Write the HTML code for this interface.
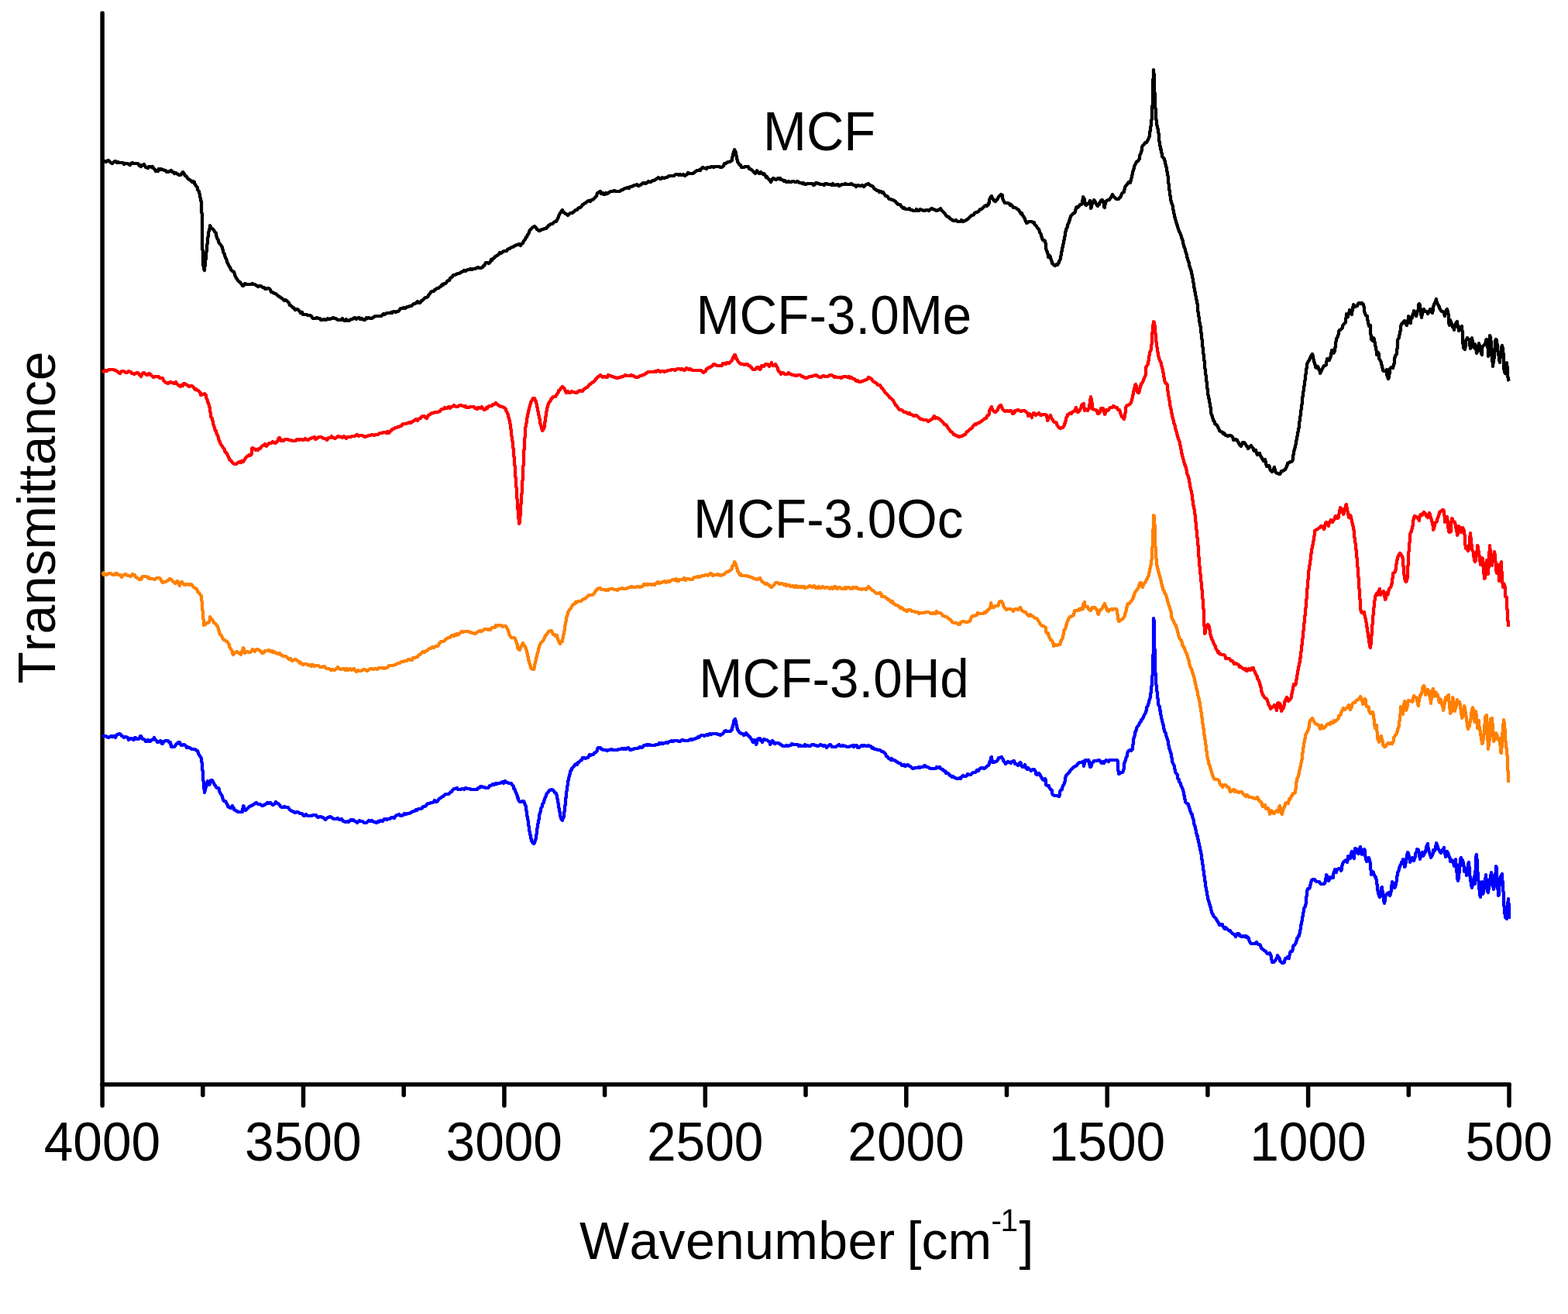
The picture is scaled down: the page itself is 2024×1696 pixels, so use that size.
<!DOCTYPE html>
<html lang="en">
<head>
<meta charset="utf-8">
<title>FTIR spectra</title>
<style>
html, body { margin: 0; padding: 0; background: #ffffff; }
body { width: 2024px; height: 1696px; overflow: hidden; }
svg { display: block; }
text { font-family: "Liberation Sans", Arial, Helvetica, sans-serif; font-size: 68px; fill: #000000; font-kerning: none; }
</style>
</head>
<body>
<svg width="2024" height="1696" viewBox="0 0 2024 1696">
<rect x="0" y="0" width="2024" height="1696" fill="#ffffff"/>
<g id="axes" stroke="#000000" stroke-width="5.5" stroke-linecap="round" fill="none">
<line x1="132.1" y1="17.0" x2="132.1" y2="1399.8"/>
<line x1="132.1" y1="1399.8" x2="1948.0" y2="1399.8"/>
<line x1="132.1" y1="1399.8" x2="132.1" y2="1427.0"/>
<line x1="261.8" y1="1399.8" x2="261.8" y2="1413.5"/>
<line x1="391.5" y1="1399.8" x2="391.5" y2="1427.0"/>
<line x1="521.2" y1="1399.8" x2="521.2" y2="1413.5"/>
<line x1="650.9" y1="1399.8" x2="650.9" y2="1427.0"/>
<line x1="780.6" y1="1399.8" x2="780.6" y2="1413.5"/>
<line x1="910.3" y1="1399.8" x2="910.3" y2="1427.0"/>
<line x1="1040.0" y1="1399.8" x2="1040.0" y2="1413.5"/>
<line x1="1169.8" y1="1399.8" x2="1169.8" y2="1427.0"/>
<line x1="1299.5" y1="1399.8" x2="1299.5" y2="1413.5"/>
<line x1="1429.2" y1="1399.8" x2="1429.2" y2="1427.0"/>
<line x1="1558.9" y1="1399.8" x2="1558.9" y2="1413.5"/>
<line x1="1688.6" y1="1399.8" x2="1688.6" y2="1427.0"/>
<line x1="1818.3" y1="1399.8" x2="1818.3" y2="1413.5"/>
<line x1="1948.0" y1="1399.8" x2="1948.0" y2="1427.0"/>
</g>
<g id="curves">
<polyline fill="none" stroke="#0000ff" stroke-width="4.2" stroke-linejoin="round" stroke-linecap="butt" points="132,951 134,950 136,950 138,951 140,952 142,951 144,950 145,951 147,950 149,952 150,950 151,948 152,948 154,947 156,948 157,950 158,950 160,952 161,951 163,951 164,952 165,952 166,955 167,954 169,953 170,953 172,955 173,955 174,952 175,952 177,954 178,954 180,953 181,950 182,950 183,952 184,954 186,954 187,955 188,957 190,957 191,955 193,957 194,957 195,955 197,955 198,954 199,952 200,954 201,955 202,956 203,958 204,958 206,957 207,956 208,957 209,960 210,960 211,957 212,957 214,956 215,956 217,956 218,958 220,958 220,961 221,961 221,964 223,964 225,964 226,963 227,961 228,960 229,960 230,958 232,958 233,961 234,962 235,962 237,961 238,961 240,963 241,965 242,964 244,965 245,965 246,966 248,967 249,967 251,967 253,968 254,969 255,969 256,972 256,973 257,974 258,976 259,977 260,979 260,981 260,983 261,985 261,986 261,988 261,990 261,991 261,994 262,995 262,997 262,999 262,1000 262,1002 262,1004 262,1006 262,1007 263,1009 263,1011 263,1012 263,1014 263,1016 263,1017 264,1020 264,1021 264,1023 264,1022 265,1020 265,1018 266,1016 266,1014 267,1013 267,1011 268,1009 268,1008 269,1010 270,1012 270,1013 271,1012 271,1010 272,1009 272,1007 274,1007 275,1009 276,1011 277,1013 278,1014 279,1016 280,1017 282,1017 283,1019 283,1020 283,1021 284,1023 285,1025 286,1026 287,1028 287,1029 288,1032 289,1034 291,1034 292,1036 293,1038 294,1039 294,1041 296,1042 298,1043 299,1041 300,1040 301,1043 302,1043 302,1045 304,1046 306,1047 307,1048 309,1048 311,1048 313,1048 313,1046 313,1044 314,1043 314,1042 314,1040 315,1041 315,1044 316,1045 317,1046 318,1045 319,1044 320,1043 321,1042 322,1041 324,1040 325,1040 326,1039 328,1038 329,1037 331,1036 333,1038 334,1038 336,1038 338,1040 339,1040 341,1039 343,1038 345,1036 347,1037 349,1036 351,1038 352,1039 354,1038 355,1037 356,1035 358,1037 359,1037 361,1039 362,1041 364,1042 366,1042 367,1041 369,1042 370,1042 372,1042 373,1044 374,1045 375,1046 377,1047 378,1047 379,1048 381,1049 383,1048 384,1048 386,1049 387,1050 388,1050 390,1050 391,1052 393,1053 395,1051 397,1053 399,1053 400,1053 402,1053 404,1052 405,1052 407,1052 408,1052 409,1054 411,1055 412,1054 414,1054 416,1055 417,1055 419,1057 420,1058 422,1056 423,1055 424,1055 426,1054 428,1055 429,1056 431,1057 433,1057 434,1057 436,1056 438,1058 439,1058 441,1057 443,1060 444,1060 446,1061 447,1061 449,1060 450,1061 452,1059 453,1058 455,1059 456,1058 458,1060 459,1060 461,1062 462,1061 463,1060 464,1059 465,1060 467,1060 468,1060 470,1062 471,1062 473,1062 474,1061 475,1060 476,1059 478,1060 480,1059 481,1060 483,1061 484,1061 486,1062 488,1060 489,1061 491,1059 493,1060 494,1060 496,1057 498,1057 499,1058 501,1057 503,1057 504,1056 506,1055 507,1055 509,1056 510,1054 512,1052 514,1052 515,1051 517,1053 518,1053 520,1052 521,1052 522,1050 524,1051 526,1050 528,1050 530,1049 532,1048 533,1047 535,1047 537,1045 538,1046 540,1044 542,1044 543,1044 545,1043 546,1041 548,1041 550,1040 551,1038 553,1037 555,1037 556,1036 558,1036 560,1035 561,1033 563,1035 565,1034 566,1032 567,1031 568,1030 569,1030 571,1028 572,1028 574,1026 575,1025 576,1025 578,1025 579,1025 581,1023 582,1022 583,1022 584,1020 585,1019 586,1018 588,1018 590,1017 591,1019 593,1019 595,1019 596,1018 598,1018 599,1019 601,1017 603,1018 604,1018 606,1018 608,1019 609,1019 611,1019 613,1019 615,1019 616,1019 617,1017 619,1017 620,1015 622,1015 623,1016 625,1016 627,1017 628,1017 630,1017 631,1016 632,1014 634,1014 635,1013 636,1012 638,1013 640,1011 641,1012 643,1011 645,1011 647,1010 649,1009 650,1011 652,1008 654,1010 655,1010 657,1011 658,1011 660,1011 661,1013 662,1014 663,1015 663,1018 664,1018 665,1020 665,1021 666,1023 667,1025 667,1026 668,1027 668,1030 669,1030 669,1032 670,1034 671,1035 673,1035 674,1034 676,1034 677,1036 677,1037 678,1039 679,1041 679,1043 679,1044 679,1046 680,1047 680,1049 680,1051 680,1053 681,1054 681,1056 681,1057 682,1060 682,1062 682,1064 682,1065 683,1067 683,1069 683,1070 683,1072 684,1074 684,1075 684,1077 685,1078 685,1080 685,1082 686,1083 686,1085 687,1087 688,1088 689,1089 690,1088 690,1087 691,1085 691,1084 692,1082 692,1081 692,1079 692,1078 693,1076 693,1074 693,1072 693,1070 694,1068 694,1067 694,1065 694,1064 695,1062 695,1061 695,1059 696,1057 696,1055 696,1053 696,1052 697,1050 697,1049 698,1047 698,1045 698,1044 699,1042 700,1041 700,1038 701,1037 702,1036 702,1034 703,1032 703,1031 704,1029 705,1027 705,1026 706,1024 707,1023 708,1022 709,1020 710,1020 712,1019 714,1020 715,1021 716,1023 718,1024 718,1025 719,1027 719,1029 719,1030 720,1032 720,1034 720,1035 721,1038 721,1039 721,1041 721,1042 722,1044 722,1046 722,1047 723,1049 723,1051 723,1053 724,1055 724,1056 725,1058 726,1059 726,1058 727,1056 728,1054 728,1053 728,1052 728,1050 728,1048 729,1047 729,1045 729,1043 729,1042 729,1040 730,1039 730,1037 730,1035 730,1034 730,1032 730,1030 731,1029 731,1027 731,1026 731,1024 731,1022 732,1020 732,1019 732,1017 732,1015 733,1013 733,1012 733,1010 733,1008 734,1007 734,1004 735,1002 735,1000 736,999 736,996 737,994 738,994 738,992 740,990 741,989 742,987 744,986 745,987 746,984 747,984 749,982 750,981 751,981 752,978 754,978 756,979 757,978 759,978 760,976 761,974 762,975 764,974 766,974 767,972 769,971 770,970 771,969 771,967 772,965 773,965 775,965 776,967 777,967 779,968 780,968 782,968 784,969 785,968 787,968 789,967 791,968 793,968 794,968 796,968 797,968 799,967 801,967 803,966 805,967 806,966 808,967 809,966 811,965 812,966 813,968 815,968 816,967 818,967 819,966 821,966 822,966 823,966 825,965 826,964 828,965 830,964 831,962 833,962 835,961 836,962 838,961 840,962 842,962 844,962 845,962 847,961 848,961 850,961 851,959 853,960 854,959 856,960 857,959 859,959 860,958 862,959 863,958 864,957 866,957 867,956 869,957 870,956 872,956 873,956 875,956 876,957 878,957 879,956 880,955 882,955 883,956 885,956 887,956 888,956 890,955 892,954 893,955 895,954 896,954 898,953 899,953 901,951 902,952 904,950 905,949 906,949 908,949 909,950 911,949 913,948 914,949 916,947 918,948 919,947 921,947 923,947 925,947 927,948 928,948 930,949 931,948 933,947 934,946 935,944 937,943 938,944 940,944 941,944 943,944 944,942 945,942 945,939 946,938 946,936 947,934 947,933 947,931 948,929 949,928 949,929 950,931 950,933 950,934 951,936 951,937 951,938 952,941 952,942 953,943 955,946 956,946 957,947 959,947 960,949 962,948 963,946 964,947 965,949 966,949 967,951 968,951 969,953 970,954 971,956 972,958 973,957 974,955 975,956 975,958 976,960 976,961 977,959 977,957 978,955 978,954 980,953 981,953 982,956 983,956 984,958 985,955 986,954 988,955 990,955 992,957 993,957 994,959 994,961 995,960 996,958 997,956 998,957 999,958 1000,960 1002,959 1003,959 1005,959 1006,960 1008,961 1009,962 1011,963 1012,963 1014,963 1015,962 1017,963 1018,963 1019,962 1021,962 1022,960 1024,961 1025,961 1027,961 1028,961 1030,961 1031,963 1033,962 1034,963 1036,963 1037,963 1039,961 1040,963 1042,962 1044,963 1045,963 1046,963 1048,961 1050,961 1052,962 1053,962 1055,963 1056,963 1058,962 1059,961 1061,962 1063,963 1064,962 1066,963 1067,965 1069,963 1071,961 1072,961 1074,964 1076,964 1077,964 1079,964 1080,963 1082,962 1083,961 1085,963 1087,963 1088,962 1090,963 1092,963 1093,964 1094,964 1096,964 1097,963 1099,963 1101,962 1102,964 1104,962 1106,962 1107,965 1109,965 1110,964 1111,963 1113,962 1114,963 1116,962 1118,963 1120,963 1121,962 1122,963 1124,963 1125,965 1126,966 1127,965 1129,967 1130,967 1131,967 1133,968 1134,968 1136,968 1137,969 1138,970 1139,970 1141,971 1142,972 1143,973 1144,976 1146,977 1147,979 1148,979 1150,981 1151,979 1152,981 1154,981 1156,982 1157,983 1159,984 1160,985 1162,985 1163,986 1164,988 1165,988 1167,987 1168,989 1169,989 1171,987 1172,987 1174,989 1175,989 1177,991 1178,992 1179,992 1181,991 1182,991 1184,991 1186,990 1187,991 1189,990 1190,990 1192,990 1193,988 1194,988 1196,990 1198,990 1199,991 1201,992 1203,992 1204,992 1206,992 1208,992 1209,990 1211,991 1213,990 1214,992 1216,993 1217,993 1218,995 1220,995 1221,998 1222,997 1223,998 1225,999 1226,1001 1227,1001 1229,1003 1230,1002 1231,1003 1233,1004 1235,1005 1237,1005 1239,1004 1240,1005 1241,1003 1242,1002 1243,1001 1245,1002 1247,1002 1248,1001 1249,999 1251,1000 1253,1000 1254,999 1255,998 1256,997 1257,997 1259,997 1260,996 1261,994 1263,995 1264,993 1265,992 1267,991 1268,991 1270,992 1272,991 1273,990 1275,988 1276,988 1277,986 1277,984 1278,983 1278,982 1279,981 1279,978 1280,977 1280,978 1280,980 1281,982 1281,983 1281,984 1283,984 1285,983 1286,983 1288,981 1289,978 1291,978 1293,977 1293,978 1294,979 1295,980 1295,982 1296,983 1297,984 1298,986 1300,984 1301,983 1303,984 1305,985 1306,983 1307,983 1308,982 1309,982 1310,985 1310,986 1312,986 1314,988 1316,985 1317,984 1318,985 1318,988 1319,989 1320,990 1322,989 1323,987 1324,990 1324,991 1326,993 1326,992 1327,991 1328,992 1329,993 1330,994 1331,995 1333,993 1335,993 1336,995 1337,996 1337,999 1339,1000 1340,999 1341,998 1342,999 1343,1001 1344,1003 1345,1004 1345,1005 1347,1007 1348,1006 1349,1005 1350,1007 1350,1008 1350,1010 1350,1011 1350,1013 1352,1014 1354,1014 1354,1016 1355,1017 1356,1019 1358,1020 1358,1022 1358,1024 1359,1026 1360,1026 1361,1027 1363,1027 1365,1027 1367,1028 1368,1026 1368,1024 1368,1022 1369,1020 1371,1019 1371,1017 1372,1015 1372,1014 1373,1013 1374,1011 1374,1010 1375,1008 1375,1006 1375,1004 1376,1002 1376,1001 1377,1000 1378,999 1380,997 1381,996 1381,995 1383,993 1384,992 1386,990 1388,989 1390,988 1391,986 1392,985 1394,984 1396,984 1398,983 1398,985 1399,987 1399,989 1399,987 1400,986 1400,985 1400,982 1401,981 1402,981 1403,982 1405,981 1406,983 1406,985 1406,986 1407,988 1407,990 1408,990 1409,988 1409,987 1409,985 1411,984 1412,982 1414,982 1416,982 1418,981 1419,981 1420,982 1421,984 1422,985 1424,983 1425,985 1426,983 1428,981 1428,982 1429,982 1431,983 1432,981 1434,981 1436,981 1437,981 1439,981 1441,981 1442,981 1443,983 1443,985 1443,986 1443,988 1443,989 1443,991 1443,992 1443,994 1444,996 1444,998 1444,999 1446,998 1447,997 1449,997 1450,995 1450,994 1451,992 1451,990 1451,989 1451,987 1451,985 1452,984 1452,983 1453,981 1453,980 1454,977 1455,976 1455,974 1455,973 1456,970 1457,969 1459,968 1460,969 1462,967 1462,965 1462,964 1462,962 1463,960 1463,959 1463,957 1463,955 1463,954 1464,952 1464,951 1465,949 1465,948 1465,945 1466,945 1466,943 1467,942 1467,940 1468,938 1469,937 1470,936 1471,933 1472,932 1473,931 1473,929 1474,929 1475,927 1476,926 1476,925 1477,923 1478,921 1479,920 1479,918 1480,917 1480,915 1480,913 1481,912 1482,910 1482,909 1483,907 1483,905 1484,903 1484,902 1485,900 1485,899 1485,897 1485,895 1486,894 1486,892 1486,890 1486,888 1486,886 1487,885 1487,883 1487,882 1487,880 1487,878 1487,877 1487,875 1487,873 1488,871 1488,870 1488,868 1488,867 1488,865 1488,863 1488,862 1488,860 1488,858 1488,856 1488,855 1488,853 1488,851 1488,849 1488,848 1488,846 1489,844 1489,842 1489,841 1489,839 1489,837 1489,835 1489,834 1489,832 1489,830 1489,828 1489,827 1489,825 1489,823 1489,821 1489,820 1489,818 1489,816 1489,814 1489,813 1489,811 1489,810 1489,808 1489,806 1489,805 1489,803 1489,801 1489,799 1489,798 1489,800 1490,801 1490,803 1490,804 1490,806 1490,808 1490,810 1490,811 1490,813 1490,814 1490,816 1490,818 1490,820 1490,821 1490,823 1490,825 1490,827 1490,829 1490,830 1490,832 1490,834 1490,835 1490,837 1491,839 1491,841 1491,842 1491,844 1491,846 1491,848 1491,849 1491,851 1491,853 1491,854 1491,856 1491,858 1491,860 1491,861 1491,863 1491,865 1491,867 1491,868 1492,870 1492,871 1492,873 1492,875 1492,876 1492,878 1492,880 1492,881 1492,883 1493,885 1493,887 1493,888 1493,890 1493,892 1494,893 1494,895 1494,897 1494,899 1494,901 1495,902 1495,904 1495,906 1495,907 1495,909 1496,911 1497,912 1497,915 1497,917 1498,917 1498,920 1498,921 1498,922 1499,924 1499,925 1499,927 1500,929 1500,931 1501,933 1501,935 1502,936 1502,937 1502,938 1502,940 1503,942 1503,944 1504,945 1505,947 1505,949 1506,951 1506,952 1507,954 1507,955 1508,957 1508,959 1508,961 1509,963 1509,965 1509,966 1510,967 1510,968 1511,971 1511,972 1512,973 1512,975 1512,977 1513,979 1513,981 1513,983 1514,985 1515,987 1516,989 1516,991 1516,992 1517,994 1517,996 1518,998 1519,999 1520,1000 1520,1002 1520,1004 1521,1006 1522,1006 1522,1009 1523,1010 1524,1011 1524,1013 1525,1015 1526,1017 1527,1019 1527,1020 1528,1023 1528,1024 1528,1026 1529,1027 1529,1029 1529,1031 1530,1032 1530,1033 1530,1035 1532,1037 1533,1037 1534,1038 1534,1040 1535,1041 1535,1043 1536,1044 1536,1046 1537,1048 1538,1051 1539,1051 1539,1053 1539,1054 1540,1056 1540,1057 1541,1059 1541,1061 1541,1063 1542,1065 1542,1066 1543,1067 1543,1069 1543,1070 1544,1072 1544,1073 1544,1075 1545,1077 1545,1079 1546,1079 1546,1081 1546,1083 1547,1084 1547,1086 1547,1087 1548,1089 1548,1090 1548,1092 1549,1093 1549,1095 1549,1097 1550,1098 1550,1100 1550,1101 1551,1103 1551,1104 1551,1106 1551,1109 1552,1110 1552,1112 1552,1114 1552,1115 1553,1117 1553,1119 1553,1121 1553,1123 1554,1124 1554,1126 1554,1128 1554,1130 1555,1131 1555,1133 1555,1136 1555,1137 1556,1138 1556,1140 1556,1142 1556,1144 1557,1146 1557,1148 1557,1149 1558,1151 1558,1153 1558,1155 1559,1157 1559,1158 1559,1160 1560,1162 1560,1163 1561,1165 1561,1167 1562,1168 1562,1170 1563,1171 1563,1173 1563,1174 1564,1176 1564,1178 1565,1179 1566,1181 1566,1182 1567,1183 1569,1185 1570,1186 1570,1187 1571,1188 1572,1190 1573,1191 1574,1194 1575,1194 1576,1193 1578,1193 1578,1195 1579,1196 1580,1198 1581,1199 1582,1197 1583,1198 1584,1199 1585,1200 1586,1201 1588,1201 1588,1202 1589,1203 1590,1204 1591,1205 1593,1206 1594,1207 1595,1209 1596,1207 1597,1205 1599,1205 1600,1206 1600,1208 1601,1208 1603,1209 1604,1208 1606,1209 1608,1208 1609,1210 1610,1209 1612,1211 1612,1213 1613,1215 1614,1217 1615,1218 1616,1218 1618,1218 1620,1218 1621,1217 1622,1216 1623,1218 1624,1219 1626,1219 1627,1220 1627,1221 1628,1223 1628,1224 1630,1225 1631,1226 1632,1227 1634,1228 1635,1230 1636,1231 1638,1231 1639,1230 1640,1232 1640,1233 1641,1234 1641,1237 1641,1238 1642,1240 1642,1242 1644,1242 1645,1241 1646,1240 1647,1238 1648,1237 1649,1234 1649,1233 1650,1235 1651,1236 1652,1238 1652,1240 1653,1241 1654,1242 1655,1243 1656,1243 1658,1242 1658,1240 1659,1238 1659,1237 1661,1237 1662,1235 1663,1235 1664,1237 1664,1235 1664,1234 1665,1232 1665,1230 1666,1228 1668,1228 1668,1227 1669,1225 1669,1224 1669,1222 1670,1220 1671,1220 1672,1218 1673,1217 1673,1215 1674,1214 1674,1211 1675,1211 1676,1208 1677,1208 1677,1206 1678,1204 1678,1203 1678,1201 1679,1199 1679,1197 1679,1196 1679,1194 1680,1193 1680,1192 1680,1190 1681,1188 1681,1186 1681,1184 1682,1182 1682,1181 1682,1179 1683,1176 1683,1175 1683,1173 1684,1171 1685,1170 1685,1168 1686,1166 1686,1165 1686,1163 1686,1161 1686,1160 1686,1158 1687,1156 1687,1155 1687,1153 1687,1151 1687,1150 1688,1148 1688,1147 1690,1147 1691,1145 1691,1143 1692,1141 1692,1139 1693,1137 1693,1136 1695,1135 1697,1135 1698,1137 1700,1138 1701,1138 1703,1138 1704,1140 1705,1141 1707,1141 1709,1141 1710,1140 1711,1137 1711,1136 1711,1134 1712,1134 1712,1131 1712,1129 1713,1130 1713,1132 1713,1133 1714,1135 1715,1136 1715,1137 1716,1135 1717,1134 1717,1132 1719,1133 1721,1133 1721,1132 1721,1130 1721,1128 1722,1126 1722,1125 1723,1124 1723,1122 1724,1123 1724,1124 1725,1126 1725,1125 1726,1122 1727,1122 1728,1121 1730,1121 1731,1123 1731,1124 1732,1122 1732,1121 1732,1120 1732,1118 1733,1116 1733,1115 1734,1113 1735,1112 1736,1111 1738,1110 1738,1112 1739,1113 1739,1111 1740,1110 1740,1108 1740,1106 1740,1105 1742,1105 1743,1106 1743,1108 1744,1106 1744,1104 1744,1101 1745,1099 1746,1101 1746,1103 1747,1104 1747,1105 1747,1106 1748,1108 1748,1106 1748,1105 1748,1103 1748,1102 1749,1100 1749,1098 1749,1097 1749,1095 1751,1096 1751,1098 1752,1100 1753,1102 1754,1102 1754,1101 1755,1099 1755,1098 1755,1096 1755,1095 1756,1093 1756,1095 1757,1096 1757,1098 1758,1099 1758,1100 1758,1103 1759,1100 1760,1099 1761,1097 1761,1096 1762,1098 1762,1099 1762,1101 1762,1103 1762,1105 1763,1106 1763,1107 1763,1109 1764,1111 1764,1112 1765,1111 1766,1110 1766,1108 1767,1107 1767,1108 1768,1110 1768,1111 1768,1112 1769,1114 1769,1116 1769,1117 1769,1119 1769,1121 1769,1122 1770,1124 1770,1125 1770,1127 1770,1129 1771,1126 1772,1126 1772,1125 1773,1126 1773,1128 1774,1129 1775,1132 1776,1132 1776,1134 1777,1136 1777,1138 1777,1139 1777,1141 1778,1142 1778,1144 1778,1146 1778,1147 1778,1149 1779,1150 1779,1152 1779,1153 1780,1155 1780,1156 1781,1158 1781,1156 1782,1155 1782,1153 1782,1151 1783,1150 1783,1147 1783,1146 1784,1145 1784,1147 1784,1149 1785,1151 1785,1152 1785,1154 1785,1155 1785,1157 1786,1158 1786,1160 1786,1162 1786,1163 1787,1165 1787,1166 1787,1164 1788,1163 1788,1161 1788,1160 1788,1158 1789,1156 1789,1155 1791,1153 1793,1152 1793,1154 1794,1156 1795,1154 1795,1153 1795,1152 1796,1150 1796,1148 1796,1147 1796,1145 1796,1143 1797,1142 1797,1140 1797,1138 1798,1140 1798,1141 1798,1143 1799,1145 1800,1146 1801,1145 1801,1143 1802,1142 1802,1140 1802,1139 1803,1137 1803,1135 1803,1133 1803,1131 1804,1130 1804,1128 1804,1126 1805,1125 1806,1122 1806,1120 1807,1119 1807,1118 1808,1116 1809,1115 1809,1113 1810,1112 1811,1110 1811,1109 1812,1112 1812,1114 1813,1116 1813,1117 1813,1119 1814,1118 1814,1116 1814,1115 1815,1113 1815,1112 1815,1110 1815,1109 1816,1106 1816,1105 1816,1103 1817,1102 1817,1100 1818,1101 1818,1103 1819,1105 1819,1107 1819,1108 1820,1110 1820,1111 1820,1113 1821,1111 1821,1110 1822,1108 1823,1107 1824,1110 1825,1111 1826,1108 1826,1107 1827,1106 1827,1103 1827,1102 1828,1100 1829,1099 1829,1096 1831,1097 1831,1099 1832,1101 1832,1102 1832,1104 1832,1105 1833,1107 1833,1109 1833,1107 1834,1106 1834,1104 1834,1102 1835,1102 1836,1100 1836,1101 1837,1103 1837,1105 1838,1103 1839,1101 1840,1100 1840,1098 1841,1096 1841,1095 1841,1093 1842,1092 1842,1091 1843,1089 1843,1091 1843,1093 1844,1095 1844,1096 1844,1098 1845,1099 1845,1100 1846,1103 1846,1104 1847,1105 1847,1107 1848,1105 1849,1104 1849,1103 1850,1101 1850,1099 1850,1098 1850,1097 1852,1098 1853,1096 1853,1094 1853,1092 1854,1091 1854,1089 1854,1088 1855,1090 1855,1091 1856,1093 1856,1095 1857,1096 1858,1098 1859,1100 1860,1101 1861,1099 1862,1097 1863,1096 1864,1094 1864,1096 1864,1098 1865,1099 1865,1101 1865,1102 1866,1104 1866,1106 1867,1104 1867,1102 1867,1101 1868,1099 1869,1101 1870,1103 1870,1105 1871,1106 1871,1107 1872,1108 1872,1110 1872,1112 1873,1111 1874,1110 1875,1111 1875,1112 1876,1114 1877,1117 1877,1118 1878,1116 1878,1115 1878,1112 1879,1111 1879,1109 1879,1111 1879,1113 1879,1114 1880,1116 1880,1118 1880,1119 1880,1121 1880,1122 1880,1124 1880,1125 1881,1127 1881,1129 1881,1131 1881,1132 1881,1134 1882,1136 1882,1137 1882,1135 1883,1134 1883,1132 1883,1131 1883,1129 1883,1127 1884,1126 1884,1124 1884,1122 1884,1121 1884,1119 1884,1118 1884,1116 1885,1114 1885,1113 1885,1111 1885,1109 1886,1107 1886,1109 1886,1110 1886,1112 1886,1114 1887,1115 1887,1117 1887,1115 1887,1113 1888,1111 1888,1110 1888,1112 1889,1113 1889,1115 1889,1117 1890,1118 1890,1120 1890,1122 1890,1124 1890,1125 1891,1123 1892,1121 1892,1123 1892,1125 1893,1127 1893,1128 1893,1130 1894,1128 1894,1126 1894,1125 1894,1124 1894,1122 1895,1120 1895,1118 1895,1117 1895,1115 1896,1113 1896,1115 1896,1117 1896,1118 1897,1120 1897,1121 1897,1123 1897,1125 1897,1127 1897,1128 1897,1130 1898,1132 1898,1133 1898,1135 1898,1137 1899,1139 1899,1140 1899,1142 1899,1143 1900,1145 1900,1146 1900,1144 1901,1143 1901,1142 1901,1140 1902,1138 1902,1136 1902,1135 1903,1133 1903,1131 1903,1133 1903,1134 1903,1135 1903,1137 1904,1139 1904,1141 1904,1139 1904,1137 1904,1135 1904,1134 1904,1132 1904,1130 1904,1128 1904,1127 1904,1125 1905,1123 1905,1122 1905,1120 1905,1118 1905,1116 1905,1115 1905,1113 1905,1111 1905,1109 1905,1108 1905,1106 1906,1103 1906,1105 1906,1107 1906,1108 1907,1110 1907,1112 1907,1113 1907,1115 1907,1117 1907,1118 1907,1120 1907,1122 1907,1123 1907,1125 1908,1127 1908,1128 1908,1130 1908,1132 1908,1133 1908,1135 1908,1136 1909,1138 1909,1139 1909,1141 1909,1143 1909,1144 1909,1146 1909,1147 1910,1149 1910,1150 1910,1152 1910,1154 1910,1155 1911,1157 1911,1158 1911,1157 1911,1155 1911,1153 1912,1151 1912,1149 1912,1148 1912,1146 1912,1145 1912,1143 1913,1141 1913,1139 1913,1138 1913,1140 1913,1142 1913,1143 1914,1145 1914,1147 1914,1149 1914,1150 1914,1152 1914,1154 1915,1152 1915,1151 1915,1148 1916,1147 1916,1145 1916,1144 1916,1142 1917,1141 1917,1139 1917,1138 1917,1136 1917,1134 1918,1132 1918,1130 1918,1129 1918,1131 1918,1132 1918,1134 1919,1135 1919,1137 1919,1139 1919,1141 1919,1143 1920,1144 1920,1145 1920,1148 1920,1149 1920,1150 1921,1152 1921,1150 1921,1149 1922,1147 1922,1145 1922,1144 1923,1142 1923,1140 1923,1139 1923,1137 1923,1135 1924,1134 1924,1131 1924,1130 1925,1128 1925,1126 1925,1128 1926,1130 1926,1132 1926,1133 1926,1135 1927,1137 1927,1138 1927,1140 1927,1142 1927,1144 1928,1146 1928,1148 1928,1146 1929,1144 1929,1142 1929,1141 1930,1139 1930,1137 1930,1135 1930,1133 1930,1132 1930,1130 1930,1128 1931,1126 1931,1125 1931,1123 1931,1121 1931,1120 1931,1118 1932,1120 1932,1121 1932,1123 1932,1125 1932,1127 1932,1129 1932,1131 1932,1132 1933,1134 1933,1135 1933,1137 1933,1138 1933,1140 1933,1142 1933,1143 1933,1145 1933,1147 1934,1149 1934,1150 1934,1153 1934,1154 1934,1156 1935,1155 1935,1153 1935,1151 1935,1149 1935,1147 1935,1146 1935,1144 1936,1142 1936,1141 1936,1139 1936,1137 1936,1136 1937,1134 1937,1132 1937,1131 1938,1130 1939,1128 1939,1130 1939,1132 1939,1133 1939,1135 1939,1137 1940,1138 1940,1141 1940,1142 1940,1144 1940,1146 1940,1147 1940,1149 1940,1150 1941,1152 1941,1154 1941,1156 1941,1157 1941,1159 1941,1160 1941,1162 1941,1164 1941,1165 1941,1167 1941,1169 1942,1170 1942,1172 1942,1173 1942,1175 1942,1177 1942,1179 1943,1180 1943,1182 1943,1184 1944,1185 1945,1186 1945,1184 1945,1183 1945,1181 1945,1180 1945,1178 1946,1177 1946,1175 1946,1173 1946,1171 1946,1170 1946,1168 1946,1166 1946,1165 1947,1163 1947,1162 1947,1160 1947,1161 1947,1163 1947,1164 1947,1166 1948,1167 1948,1169 1948,1171 1948,1172 1948,1174 1948,1176 1948,1177 1948,1179 1948,1181 1948,1182 1948,1184 1948,1186"/>
<polyline fill="none" stroke="#ff8000" stroke-width="4.2" stroke-linejoin="round" stroke-linecap="butt" points="132,738 133,739 133,741 134,742 136,741 137,742 139,741 141,740 143,740 144,741 146,742 148,742 149,740 151,740 152,742 154,742 155,742 157,745 158,743 160,742 162,741 163,742 165,743 167,743 168,744 170,743 171,741 172,742 174,742 175,745 176,745 177,746 179,747 180,748 182,748 183,747 183,745 184,744 186,744 188,744 189,744 191,746 192,745 193,747 195,747 196,747 198,747 199,748 200,748 202,746 203,746 205,746 206,746 207,747 208,749 209,751 210,752 212,751 214,751 215,750 217,749 218,748 219,747 221,748 222,749 223,750 225,752 226,753 227,752 229,750 230,752 230,753 231,754 232,756 232,755 233,752 234,751 235,751 236,753 238,755 239,755 241,754 243,754 244,755 246,754 248,755 249,757 250,758 252,759 253,760 254,760 255,763 255,764 257,765 258,767 259,768 260,769 260,772 260,773 260,775 261,777 261,779 261,780 261,782 261,784 261,786 261,787 262,789 262,791 262,793 262,794 262,796 262,798 263,800 263,803 263,804 263,806 263,807 265,806 267,804 268,804 270,803 270,802 271,800 271,798 271,796 272,798 273,799 274,800 275,801 276,804 277,804 279,806 280,808 281,808 281,809 282,812 282,813 283,815 283,816 284,819 285,819 286,821 287,823 288,825 289,826 290,826 291,827 293,828 294,829 295,831 296,832 296,835 297,836 298,838 299,839 300,841 300,843 301,845 302,844 304,842 306,841 308,843 309,843 311,845 311,844 312,841 313,840 313,839 314,838 314,836 315,838 315,840 315,842 316,843 317,842 318,841 320,841 321,842 323,842 324,841 325,840 326,838 327,839 329,841 330,839 332,838 333,838 334,839 336,840 337,841 338,843 339,843 341,842 342,840 343,840 345,840 347,839 349,841 351,840 352,842 354,841 356,843 357,843 359,844 361,843 362,845 364,846 366,847 367,847 369,847 370,848 372,850 373,851 375,850 376,852 377,853 379,852 381,851 383,852 384,853 386,854 387,856 388,855 390,857 391,858 393,857 394,857 396,857 397,858 399,859 401,858 402,860 404,858 406,860 407,859 409,859 410,859 411,859 413,861 414,861 416,861 417,860 419,860 420,862 422,863 423,863 425,863 426,864 427,865 429,864 431,865 432,865 434,863 435,863 436,861 438,863 440,864 441,864 443,863 445,863 446,865 448,863 449,865 451,864 452,863 454,865 455,864 457,863 458,865 460,867 462,865 463,866 465,866 466,866 468,865 469,864 471,864 472,865 474,866 475,865 477,864 478,863 480,863 482,864 484,863 486,863 487,864 489,862 490,862 492,862 494,862 496,863 498,862 499,862 501,861 502,859 504,859 505,859 506,859 508,859 509,858 511,858 513,856 514,856 516,856 518,854 519,854 521,854 522,853 524,853 525,853 527,851 528,851 530,852 532,852 533,849 535,849 536,849 537,848 539,848 540,846 541,845 542,845 544,843 545,842 546,841 548,842 550,840 551,840 552,839 553,838 555,837 556,837 558,835 560,836 561,835 563,834 565,834 566,833 567,830 568,830 569,828 571,828 572,828 574,827 575,825 576,825 577,824 579,823 581,823 582,821 584,820 586,821 587,819 589,820 590,818 592,819 593,818 595,816 596,815 598,816 599,815 601,815 602,815 604,815 605,815 606,816 608,816 609,817 611,817 613,818 615,817 617,815 618,815 620,814 621,815 623,814 624,813 626,812 628,812 630,813 632,812 633,813 635,810 636,810 638,810 639,810 640,807 642,808 643,807 645,807 647,807 649,809 650,808 652,808 653,808 654,810 655,812 656,813 656,814 657,817 657,818 658,820 659,822 660,823 662,823 664,823 665,825 666,827 666,828 667,830 667,831 668,832 668,835 668,836 669,838 670,838 671,839 671,837 672,836 673,834 674,833 674,832 675,830 676,833 677,833 678,835 679,837 679,838 680,840 680,842 681,844 681,845 681,847 682,848 682,850 682,852 683,853 683,855 684,857 684,858 685,860 685,862 686,863 688,864 689,864 690,861 690,859 690,858 691,856 691,854 692,852 692,851 692,849 693,848 693,847 693,845 694,843 694,842 695,840 695,839 695,837 696,836 696,834 697,832 698,830 699,829 700,828 701,827 702,825 703,823 704,820 705,820 706,818 707,817 708,815 709,815 710,814 712,814 713,817 714,819 716,819 717,821 719,820 719,822 720,824 720,825 721,827 722,829 722,830 723,831 724,829 725,828 726,828 726,827 726,825 727,823 727,821 727,820 728,818 728,816 728,815 729,813 729,811 729,809 729,808 730,806 730,804 730,803 731,801 731,799 731,797 732,796 732,794 733,793 733,790 734,789 735,787 736,786 737,785 738,783 739,781 740,780 741,780 743,777 744,778 746,776 748,776 750,776 751,775 752,774 753,773 755,773 756,772 758,770 759,769 761,768 763,768 764,768 766,767 767,766 768,764 769,762 770,762 771,760 772,760 773,759 775,759 776,761 777,761 779,761 780,761 782,762 784,761 785,762 787,760 789,760 791,760 793,761 794,761 796,761 797,762 799,760 801,760 803,759 805,760 806,760 808,760 809,759 811,759 812,758 814,758 815,757 817,758 818,758 820,758 821,758 822,757 824,757 826,758 828,757 829,757 830,756 831,754 833,755 835,754 836,755 838,754 840,754 841,755 843,754 845,755 846,753 848,753 849,751 851,753 852,752 854,752 855,751 857,751 858,750 860,752 862,750 864,751 865,750 867,749 868,748 870,748 871,749 873,747 874,750 876,750 877,748 879,748 880,748 882,748 883,746 885,749 886,747 888,747 889,747 891,748 892,748 894,748 895,746 896,745 898,745 899,745 901,744 902,745 904,744 905,744 906,743 908,743 909,743 911,742 913,742 914,743 916,741 917,740 919,741 920,743 922,742 924,742 925,742 927,741 928,742 930,743 932,742 933,742 935,741 937,739 938,738 940,738 941,737 943,736 944,735 945,733 945,731 946,730 947,729 948,726 948,725 949,727 950,728 950,730 951,732 951,733 952,735 952,737 953,738 954,740 955,742 956,741 957,743 959,743 960,743 962,743 964,743 965,744 967,744 969,745 970,745 972,746 973,747 975,747 977,748 979,747 981,746 982,748 983,750 984,751 986,752 987,753 988,754 990,753 992,755 993,755 994,757 996,758 997,757 998,756 999,755 1000,754 1001,752 1003,752 1004,752 1006,754 1008,753 1009,753 1011,754 1012,755 1014,754 1015,756 1017,755 1019,755 1020,757 1022,757 1024,756 1025,758 1027,758 1028,756 1030,758 1032,757 1033,758 1035,757 1036,758 1038,757 1039,759 1041,758 1042,758 1044,757 1045,756 1047,757 1049,758 1051,756 1053,759 1055,758 1056,759 1057,757 1059,759 1060,759 1062,757 1063,758 1065,759 1066,758 1068,758 1070,759 1071,760 1073,758 1075,760 1076,758 1078,757 1079,759 1081,760 1082,758 1084,758 1085,759 1087,760 1089,760 1091,758 1092,760 1094,758 1096,758 1097,759 1098,760 1100,760 1101,758 1103,759 1104,758 1106,758 1107,760 1109,760 1110,760 1112,761 1114,760 1116,760 1118,761 1119,759 1120,759 1121,757 1122,758 1124,760 1125,761 1126,762 1127,762 1129,764 1130,765 1132,766 1134,766 1136,765 1137,767 1138,767 1138,770 1140,770 1142,770 1144,772 1145,772 1146,774 1148,774 1149,776 1150,777 1152,776 1153,779 1154,779 1156,781 1158,781 1159,782 1161,783 1162,785 1163,784 1165,785 1166,787 1167,787 1169,788 1171,789 1172,787 1174,787 1175,787 1177,789 1178,789 1180,789 1181,790 1183,790 1185,790 1186,792 1188,791 1190,791 1191,791 1193,791 1195,790 1197,790 1199,790 1200,791 1202,792 1203,792 1205,791 1206,792 1208,792 1209,789 1211,791 1212,791 1213,791 1215,792 1216,793 1217,795 1219,795 1220,796 1222,796 1223,797 1225,799 1226,799 1227,800 1229,803 1230,803 1231,804 1233,804 1235,804 1237,806 1238,806 1239,806 1240,803 1241,803 1243,802 1245,802 1246,803 1248,803 1249,803 1251,802 1252,802 1253,799 1253,798 1254,797 1255,795 1257,795 1258,795 1259,794 1261,794 1262,791 1264,792 1266,792 1267,792 1269,792 1271,790 1272,791 1274,789 1275,787 1276,787 1277,786 1278,785 1278,784 1279,781 1279,780 1279,778 1280,781 1280,783 1281,784 1282,783 1283,784 1285,782 1286,782 1288,782 1289,781 1289,779 1290,777 1291,776 1293,776 1293,777 1294,778 1295,780 1295,782 1296,783 1297,785 1299,787 1301,786 1303,786 1304,786 1305,786 1307,788 1308,789 1309,787 1310,786 1312,786 1314,787 1316,785 1317,784 1318,786 1318,787 1319,788 1321,789 1322,790 1324,790 1325,792 1326,793 1328,795 1329,794 1330,793 1330,795 1332,795 1333,795 1335,797 1336,798 1338,798 1339,799 1340,801 1341,802 1342,804 1343,806 1344,807 1346,808 1347,808 1350,810 1350,812 1350,814 1350,815 1351,817 1353,817 1353,819 1354,820 1354,822 1355,823 1356,826 1357,826 1358,827 1359,829 1359,830 1360,831 1360,833 1360,834 1362,832 1363,833 1364,833 1366,832 1368,832 1369,830 1369,828 1370,827 1370,826 1371,825 1372,823 1372,822 1372,820 1373,819 1373,817 1373,816 1373,814 1374,813 1375,812 1376,809 1376,808 1376,807 1377,806 1377,804 1378,802 1379,800 1379,799 1380,798 1381,796 1382,796 1384,795 1386,794 1386,792 1387,790 1387,788 1389,788 1390,788 1392,788 1393,786 1395,787 1396,785 1398,786 1398,785 1398,784 1398,781 1398,780 1399,779 1400,777 1400,778 1400,780 1401,782 1401,783 1402,783 1404,783 1404,784 1405,786 1406,787 1408,788 1408,787 1409,785 1410,784 1411,785 1413,784 1414,785 1415,786 1416,788 1417,789 1417,792 1418,793 1418,791 1419,790 1419,788 1420,787 1421,787 1422,786 1423,785 1424,782 1425,781 1426,779 1426,780 1427,782 1428,784 1428,786 1429,786 1429,788 1431,789 1432,787 1433,787 1435,786 1436,787 1438,786 1439,786 1441,786 1442,788 1442,790 1442,792 1443,794 1443,795 1443,797 1443,799 1444,801 1444,802 1445,802 1446,800 1447,800 1449,799 1450,798 1451,796 1452,795 1452,793 1452,792 1453,791 1453,789 1454,788 1454,786 1454,785 1455,783 1455,781 1456,779 1458,779 1459,777 1460,776 1461,775 1462,773 1463,772 1463,769 1464,769 1464,767 1465,765 1466,763 1467,762 1468,761 1469,759 1470,758 1470,756 1471,754 1471,753 1472,752 1473,752 1473,754 1474,756 1475,758 1475,757 1476,755 1477,753 1479,751 1479,750 1480,748 1481,747 1481,746 1482,744 1483,743 1483,741 1483,740 1484,738 1484,736 1484,735 1485,733 1485,730 1486,729 1486,728 1486,726 1486,724 1487,721 1487,720 1487,718 1487,717 1487,715 1487,713 1487,712 1487,710 1487,708 1487,707 1488,705 1488,703 1488,702 1488,700 1488,698 1488,696 1488,694 1488,692 1488,691 1488,689 1488,687 1488,685 1488,684 1489,682 1489,680 1489,678 1489,677 1489,675 1489,673 1489,671 1489,670 1489,668 1489,666 1489,665 1490,666 1490,668 1490,670 1490,672 1490,673 1490,675 1490,677 1491,678 1491,680 1491,682 1491,684 1491,686 1491,687 1491,689 1491,691 1491,692 1491,694 1491,696 1491,698 1491,700 1491,701 1491,703 1491,705 1492,707 1492,708 1492,710 1492,712 1492,713 1492,715 1492,717 1492,718 1492,720 1493,722 1493,724 1493,725 1493,727 1493,729 1494,731 1494,733 1495,735 1495,736 1495,738 1496,739 1496,741 1497,743 1497,745 1498,746 1498,748 1499,750 1499,751 1499,753 1500,755 1500,757 1501,758 1501,761 1502,762 1503,763 1503,765 1504,766 1505,768 1506,771 1506,772 1507,774 1507,776 1508,778 1508,779 1509,782 1510,784 1510,785 1511,788 1511,789 1512,790 1512,793 1512,794 1512,796 1513,798 1513,799 1514,800 1515,802 1516,805 1517,806 1518,807 1518,809 1519,810 1519,812 1520,814 1520,816 1521,817 1521,818 1521,820 1522,822 1522,823 1524,826 1525,826 1525,828 1526,829 1526,831 1526,833 1527,833 1528,836 1529,836 1529,838 1530,839 1530,841 1531,842 1532,844 1532,845 1533,847 1533,849 1534,850 1534,852 1535,853 1535,855 1535,857 1536,858 1536,860 1537,862 1538,863 1538,864 1539,866 1539,868 1540,869 1540,871 1541,872 1541,874 1542,876 1542,877 1542,879 1543,880 1543,882 1543,883 1544,885 1544,887 1544,888 1545,890 1545,891 1546,893 1546,895 1546,897 1547,899 1547,901 1548,902 1548,904 1548,905 1549,907 1549,909 1549,911 1549,912 1550,913 1550,915 1550,917 1550,918 1551,920 1551,922 1551,924 1551,925 1552,927 1552,928 1552,930 1552,932 1552,933 1553,935 1553,936 1553,938 1553,940 1554,941 1554,943 1554,944 1554,946 1554,948 1555,949 1555,951 1555,953 1555,954 1556,955 1556,957 1556,959 1556,961 1557,962 1557,964 1557,965 1557,967 1557,969 1558,970 1558,972 1558,974 1558,975 1558,976 1559,978 1559,980 1560,982 1560,984 1560,985 1561,987 1562,989 1562,991 1563,992 1563,994 1564,996 1564,998 1565,999 1565,1001 1566,1002 1566,1003 1567,1005 1569,1006 1572,1006 1573,1007 1574,1008 1574,1010 1575,1012 1575,1013 1577,1013 1578,1016 1579,1014 1580,1013 1581,1013 1583,1014 1584,1016 1586,1016 1587,1018 1587,1019 1588,1022 1590,1021 1592,1019 1593,1019 1594,1022 1596,1021 1597,1022 1599,1023 1600,1022 1603,1022 1604,1024 1605,1025 1607,1027 1608,1028 1609,1026 1610,1026 1611,1027 1612,1029 1613,1029 1614,1029 1616,1029 1617,1030 1619,1030 1620,1031 1621,1031 1622,1031 1623,1029 1624,1031 1625,1032 1625,1033 1627,1035 1628,1035 1628,1036 1629,1037 1629,1039 1630,1041 1631,1040 1633,1039 1633,1040 1634,1043 1634,1044 1636,1043 1637,1043 1638,1046 1638,1047 1639,1049 1639,1051 1640,1049 1641,1048 1641,1046 1642,1047 1643,1049 1644,1050 1645,1050 1646,1048 1647,1047 1648,1046 1650,1048 1650,1046 1651,1045 1651,1043 1651,1042 1652,1040 1652,1042 1653,1043 1653,1045 1654,1046 1654,1048 1654,1050 1655,1051 1655,1049 1656,1047 1656,1046 1657,1043 1658,1042 1658,1041 1659,1039 1659,1037 1660,1036 1661,1036 1663,1037 1663,1035 1664,1033 1664,1031 1665,1032 1666,1030 1667,1027 1668,1027 1669,1024 1670,1024 1672,1023 1672,1021 1672,1019 1673,1018 1673,1016 1673,1014 1673,1012 1673,1010 1674,1009 1674,1007 1674,1005 1675,1004 1676,1002 1676,1000 1677,999 1677,997 1677,995 1678,993 1678,992 1678,991 1679,989 1679,987 1679,986 1680,984 1680,982 1680,981 1681,980 1681,978 1681,977 1681,975 1681,973 1681,972 1682,971 1682,969 1682,967 1682,965 1683,964 1683,962 1683,961 1683,959 1684,957 1684,956 1684,954 1685,953 1685,951 1685,949 1686,947 1687,946 1687,945 1688,943 1689,942 1689,940 1690,938 1690,937 1690,935 1690,933 1691,932 1691,930 1692,929 1693,928 1694,927 1695,929 1696,931 1697,933 1698,934 1700,935 1702,936 1703,937 1703,938 1704,940 1704,941 1705,940 1705,937 1706,936 1707,938 1707,939 1708,940 1710,939 1711,938 1712,936 1713,935 1715,934 1717,935 1717,933 1718,932 1721,933 1722,931 1722,930 1724,931 1725,930 1727,928 1728,927 1728,925 1728,924 1730,923 1731,922 1731,920 1732,918 1733,916 1734,914 1736,916 1737,915 1739,913 1740,912 1741,910 1742,912 1742,914 1743,916 1744,914 1745,912 1745,910 1746,908 1747,907 1749,907 1750,905 1751,904 1753,903 1754,902 1755,901 1756,899 1757,901 1757,902 1758,904 1758,905 1759,906 1759,909 1760,906 1760,904 1761,903 1762,902 1763,904 1763,906 1763,907 1763,909 1764,911 1764,912 1766,912 1767,913 1767,915 1767,917 1768,919 1769,921 1771,921 1771,919 1772,919 1772,920 1773,922 1773,923 1773,925 1773,927 1774,929 1774,931 1774,932 1774,934 1774,936 1775,937 1775,939 1775,940 1776,939 1776,937 1777,936 1777,938 1777,939 1777,941 1777,943 1778,945 1778,947 1778,948 1778,950 1778,951 1778,953 1779,955 1780,957 1780,958 1781,956 1781,954 1781,953 1782,951 1783,950 1783,952 1784,954 1784,956 1785,957 1785,959 1785,960 1785,961 1787,964 1788,964 1789,963 1789,962 1790,961 1792,959 1794,960 1795,959 1797,960 1798,958 1799,956 1799,954 1799,952 1800,951 1801,949 1802,948 1803,947 1803,945 1804,944 1804,941 1805,940 1805,939 1806,937 1806,935 1806,934 1806,931 1807,930 1807,928 1807,926 1807,925 1807,923 1808,921 1808,919 1808,918 1808,916 1808,914 1808,912 1810,915 1810,916 1810,918 1810,919 1811,921 1811,922 1811,920 1811,919 1811,917 1812,916 1812,914 1812,912 1812,911 1812,909 1813,907 1813,905 1814,907 1814,909 1814,910 1815,912 1815,914 1815,915 1815,917 1816,914 1816,913 1817,911 1817,910 1817,908 1817,907 1817,906 1818,904 1819,905 1820,905 1821,905 1822,904 1823,905 1823,906 1824,904 1824,902 1824,901 1825,899 1825,898 1826,899 1827,900 1828,900 1829,901 1829,902 1829,904 1829,905 1830,907 1830,909 1831,911 1831,909 1831,907 1832,905 1832,903 1832,902 1833,900 1833,899 1833,897 1835,896 1835,894 1836,893 1836,892 1836,890 1836,888 1837,887 1837,886 1838,885 1839,888 1839,889 1839,891 1840,892 1840,894 1840,896 1840,897 1841,896 1841,894 1841,892 1842,891 1843,890 1844,892 1845,892 1845,894 1845,896 1845,898 1846,900 1846,901 1846,903 1847,904 1847,906 1847,908 1847,906 1847,904 1848,902 1848,901 1848,899 1848,898 1848,896 1849,895 1849,893 1849,891 1850,889 1850,892 1851,894 1851,895 1851,897 1852,898 1852,899 1852,898 1853,896 1853,895 1853,893 1854,895 1855,896 1856,897 1856,899 1857,901 1857,902 1857,904 1858,906 1858,907 1858,906 1859,903 1859,902 1860,903 1860,905 1861,907 1861,908 1861,909 1862,911 1862,912 1863,914 1863,915 1863,917 1863,916 1864,914 1864,912 1864,911 1864,910 1865,908 1865,907 1865,905 1865,904 1866,902 1866,900 1867,902 1867,904 1867,902 1868,901 1868,899 1869,898 1870,897 1870,898 1870,900 1870,902 1870,904 1871,906 1871,907 1871,909 1871,911 1871,912 1871,914 1872,916 1872,917 1872,919 1872,921 1873,919 1874,918 1874,916 1874,914 1874,913 1874,911 1874,909 1875,908 1875,906 1875,904 1875,902 1875,900 1876,902 1876,904 1876,905 1877,907 1877,909 1877,911 1877,912 1878,914 1878,916 1878,918 1878,916 1879,914 1879,913 1880,911 1880,909 1880,908 1880,907 1881,905 1881,903 1881,905 1882,907 1882,908 1883,907 1884,906 1884,907 1885,909 1885,911 1885,912 1885,914 1886,916 1886,918 1886,919 1886,922 1887,923 1887,925 1887,927 1888,925 1888,924 1889,922 1889,920 1889,919 1889,917 1889,915 1890,914 1890,912 1890,911 1890,913 1891,913 1891,915 1891,918 1892,919 1892,921 1892,923 1892,924 1893,926 1893,928 1893,929 1893,931 1894,933 1894,935 1894,936 1894,938 1895,939 1895,941 1896,938 1897,937 1897,935 1897,933 1898,932 1898,930 1898,929 1899,927 1899,925 1899,923 1899,922 1899,920 1900,919 1900,917 1900,916 1901,914 1901,913 1901,914 1902,916 1902,918 1902,920 1902,922 1903,923 1903,925 1903,927 1903,929 1903,930 1904,932 1904,930 1904,928 1904,926 1904,925 1904,923 1905,922 1905,919 1905,918 1905,920 1905,921 1906,923 1906,925 1906,927 1906,928 1906,930 1907,931 1907,933 1907,935 1907,937 1907,939 1907,940 1908,939 1908,937 1908,935 1908,933 1908,932 1909,930 1909,932 1909,933 1909,935 1909,937 1910,939 1910,941 1910,942 1911,944 1911,946 1911,947 1911,949 1912,950 1912,952 1912,954 1912,955 1913,956 1913,958 1913,960 1914,959 1914,957 1914,955 1915,954 1915,951 1915,950 1915,948 1916,947 1916,945 1916,943 1916,941 1916,940 1916,938 1916,936 1917,935 1917,933 1917,931 1917,929 1917,928 1917,926 1918,924 1919,923 1919,925 1919,926 1919,928 1919,930 1919,932 1920,933 1920,935 1920,937 1920,939 1920,940 1920,942 1920,943 1920,945 1920,947 1920,948 1920,950 1920,952 1920,954 1920,955 1921,957 1921,959 1921,960 1921,962 1921,964 1921,965 1921,967 1921,965 1921,963 1922,962 1922,960 1922,958 1922,957 1923,955 1923,953 1923,951 1923,949 1923,948 1923,946 1923,945 1923,943 1924,941 1924,940 1924,938 1924,936 1924,934 1924,932 1924,931 1924,929 1924,928 1926,927 1926,928 1926,930 1926,932 1926,933 1927,935 1927,937 1927,939 1927,940 1927,942 1927,943 1927,945 1927,947 1927,949 1927,950 1928,952 1928,954 1928,955 1928,957 1929,955 1930,954 1930,952 1930,951 1931,949 1931,948 1931,946 1932,948 1933,950 1933,952 1934,954 1934,955 1935,953 1936,953 1936,954 1936,956 1936,958 1936,959 1936,961 1937,962 1937,964 1937,966 1937,967 1937,969 1937,971 1938,972 1938,971 1938,969 1938,967 1938,966 1939,964 1939,962 1939,961 1939,959 1939,957 1939,955 1939,954 1939,952 1939,950 1939,949 1939,947 1940,945 1940,943 1940,942 1940,940 1940,938 1940,937 1940,935 1941,934 1941,933 1941,931 1941,929 1941,931 1942,933 1942,935 1942,937 1942,939 1942,940 1943,942 1943,944 1943,946 1943,947 1943,949 1943,951 1943,953 1943,954 1943,956 1944,958 1944,960 1944,961 1944,963 1944,965 1945,966 1945,968 1945,969 1945,971 1945,973 1945,974 1946,976 1946,978 1946,980 1946,982 1946,984 1946,985 1946,987 1946,989 1946,991 1946,993 1946,994 1947,996 1947,997 1947,999 1947,1001 1947,1002 1947,1004 1947,1006 1947,1007 1947,1009 1947,1010"/>
<polyline fill="none" stroke="#ff0000" stroke-width="4.2" stroke-linejoin="round" stroke-linecap="butt" points="132,478 134,480 136,478 138,479 139,478 141,477 142,477 144,477 145,477 147,477 148,478 149,478 151,479 152,480 153,481 155,482 156,480 157,479 159,479 161,480 163,481 164,481 166,479 167,480 169,480 170,482 172,482 173,483 175,482 177,481 178,481 179,482 180,484 181,484 182,486 183,484 184,482 185,481 186,481 188,483 189,484 191,484 192,482 193,482 194,483 196,485 197,486 198,487 200,486 201,486 203,486 205,486 206,488 208,488 210,488 211,491 212,492 214,494 215,494 217,495 218,494 220,493 222,494 223,494 225,495 226,495 227,493 228,495 229,496 231,498 232,498 233,499 234,497 236,498 237,495 238,495 240,496 241,497 242,497 244,499 246,498 248,498 249,499 250,500 251,502 252,503 253,502 255,504 256,504 257,505 258,507 259,507 259,510 261,509 263,509 264,508 265,509 266,510 266,513 267,515 268,517 268,519 269,520 269,521 270,523 270,525 271,526 271,529 271,530 271,531 272,533 272,535 272,538 273,539 274,540 274,542 275,544 275,545 275,547 276,549 276,550 277,552 277,553 278,556 279,556 279,558 280,560 280,561 281,562 282,565 282,566 283,569 284,570 284,572 285,573 286,575 287,576 288,578 289,579 290,580 290,582 291,584 292,584 293,586 294,588 295,590 296,592 296,593 297,594 298,594 299,596 300,597 301,598 303,599 304,599 305,599 307,597 308,597 309,596 311,597 312,595 314,596 315,594 316,593 317,591 318,590 319,589 321,588 322,587 323,588 325,586 325,584 325,582 325,581 325,579 326,578 327,579 328,579 330,581 331,580 333,581 334,579 336,579 337,577 338,576 339,575 341,575 342,573 343,575 344,576 345,574 346,574 347,572 349,572 350,572 352,570 353,571 355,572 356,572 357,570 358,570 359,568 359,567 360,565 361,565 362,568 363,569 365,568 366,569 368,567 369,567 371,567 373,568 375,568 377,569 379,569 381,569 382,569 383,567 385,567 386,568 388,567 389,567 391,568 392,568 394,566 395,567 397,568 398,568 400,566 401,566 403,565 404,565 406,564 407,567 409,566 410,565 412,564 413,564 415,564 416,565 418,566 420,566 422,568 423,567 424,565 426,565 427,565 428,563 430,565 431,565 432,566 434,565 436,563 437,563 439,564 441,564 442,565 444,563 445,564 447,566 448,564 450,564 451,564 453,564 454,563 456,563 458,563 459,562 461,561 463,563 464,562 466,562 468,562 469,563 471,564 473,563 474,563 476,562 478,562 480,561 481,561 483,562 485,561 486,561 488,561 490,559 492,559 493,559 495,558 497,558 499,559 500,557 502,559 503,557 505,556 506,554 507,554 509,553 510,552 512,552 513,551 515,551 516,550 518,550 519,548 521,547 522,547 524,547 526,546 527,546 529,545 530,546 531,545 533,544 534,543 536,542 537,541 539,543 540,541 542,540 543,540 544,538 546,537 547,537 548,537 549,539 551,540 552,538 553,536 555,535 556,534 558,533 560,533 561,532 563,532 565,532 567,531 568,531 569,529 570,528 572,528 573,528 574,526 576,527 577,527 579,525 581,527 582,525 584,525 586,523 587,524 589,525 591,525 593,523 595,523 597,524 598,524 600,525 601,524 602,526 604,526 605,526 607,525 608,525 610,525 612,525 613,527 614,527 616,528 617,526 619,526 620,527 622,525 623,527 625,529 627,528 628,526 629,527 631,524 633,524 635,524 636,522 638,522 640,520 642,522 643,523 645,524 647,525 649,525 650,526 651,526 653,528 653,530 654,531 655,533 655,534 656,535 656,538 657,539 657,541 658,543 658,544 658,546 659,548 659,549 659,551 659,553 660,555 660,556 660,558 660,560 660,562 661,564 661,565 661,567 661,568 662,571 662,572 662,574 662,576 662,578 663,579 663,580 663,582 663,584 663,585 663,587 663,589 664,590 664,592 664,594 664,596 664,597 664,599 664,600 665,602 665,604 665,605 665,607 665,608 665,610 665,612 665,613 665,615 666,617 666,618 666,620 666,622 666,623 666,625 666,627 666,628 667,630 667,631 667,633 667,635 667,636 667,638 667,640 667,642 667,643 668,645 668,647 668,648 668,650 668,652 668,653 668,655 668,657 669,658 669,660 669,662 669,663 669,665 669,667 669,669 670,670 670,672 670,674 670,676 671,674 671,672 671,670 671,669 671,667 672,665 672,664 672,662 672,660 672,658 672,657 672,655 672,653 672,651 673,650 673,648 673,646 673,644 673,643 673,641 673,639 673,638 674,636 674,635 674,633 674,631 674,629 674,628 674,626 674,624 674,622 674,621 675,619 675,618 675,616 675,614 675,612 675,610 675,609 675,607 675,605 675,604 675,602 676,600 676,598 676,597 676,595 676,594 676,592 676,590 676,588 676,586 676,585 676,583 676,581 677,580 677,578 677,576 677,574 677,573 677,571 677,569 677,568 677,566 678,564 678,563 678,561 678,559 678,558 678,556 678,554 678,552 679,550 679,549 679,547 680,545 680,544 680,542 680,540 681,538 681,537 681,535 682,533 682,531 682,530 683,529 683,527 684,524 684,523 685,521 685,519 686,518 687,516 688,514 690,514 691,517 692,518 692,520 693,522 693,524 693,525 694,527 694,528 694,530 695,532 695,533 695,535 696,537 696,538 696,540 697,541 697,542 697,544 697,546 698,548 698,549 699,551 699,553 700,555 700,556 701,555 702,553 702,552 703,551 703,548 703,547 703,545 704,544 704,541 704,540 704,538 705,537 705,535 705,533 705,532 706,530 706,529 706,527 707,525 707,524 708,521 709,519 710,518 711,517 711,515 712,515 713,513 715,512 717,512 718,510 719,509 720,507 721,506 721,504 722,504 723,503 724,501 725,500 726,499 727,500 729,502 729,503 730,505 731,507 733,505 734,507 736,507 738,505 739,506 741,506 743,507 745,507 746,505 747,505 749,504 750,505 752,505 753,503 754,502 756,501 757,500 758,500 759,499 761,496 762,496 763,495 764,494 766,493 767,492 768,491 769,489 770,489 771,487 772,486 773,486 775,484 776,485 778,487 779,486 781,486 782,487 784,487 785,484 787,485 788,485 790,486 791,486 793,487 794,487 796,488 798,488 799,487 801,487 803,486 804,486 806,485 807,484 809,485 810,485 812,485 813,485 815,484 816,485 818,485 819,486 821,487 822,487 823,487 825,486 826,485 828,485 829,484 831,484 832,483 834,482 835,481 837,480 838,480 840,480 841,480 843,480 844,480 846,479 847,480 849,478 850,478 852,480 854,479 856,479 858,480 859,479 861,479 862,478 864,478 865,478 867,477 868,477 870,477 871,478 873,477 874,476 876,476 877,476 879,477 880,476 882,477 883,478 885,477 886,475 888,476 889,477 891,476 892,477 894,478 896,478 898,478 900,478 902,478 903,478 905,478 906,479 908,481 909,480 911,479 912,476 913,476 914,475 916,474 917,474 918,473 920,472 921,470 922,470 924,471 925,472 927,472 928,472 930,472 932,472 933,469 935,469 937,470 938,468 940,468 941,469 943,467 944,466 945,465 946,462 947,460 948,460 948,458 949,458 950,461 950,463 951,463 952,465 953,467 954,468 955,469 957,470 959,470 961,471 963,470 965,470 966,472 968,472 969,474 970,474 971,476 972,477 974,477 976,476 977,474 978,474 979,474 980,476 981,477 982,476 982,474 983,473 983,472 985,472 986,473 987,472 988,470 990,470 991,470 992,472 993,473 994,471 995,470 996,468 996,470 997,471 998,472 1000,471 1001,470 1002,472 1003,474 1004,475 1004,477 1005,479 1006,480 1007,480 1008,483 1010,481 1011,481 1013,483 1014,483 1016,483 1018,481 1020,483 1021,483 1023,484 1025,484 1027,485 1028,485 1030,484 1031,484 1033,484 1035,486 1036,486 1038,487 1040,488 1041,488 1043,487 1045,486 1046,486 1048,486 1049,485 1051,485 1053,484 1055,485 1056,486 1057,486 1058,487 1060,487 1062,485 1063,485 1065,486 1067,486 1068,486 1070,485 1072,484 1073,484 1075,485 1077,487 1078,486 1080,487 1081,487 1083,487 1084,487 1086,488 1087,487 1089,486 1090,486 1092,486 1094,487 1096,486 1097,488 1099,487 1100,488 1101,489 1103,489 1104,491 1106,492 1107,491 1109,493 1111,493 1112,492 1114,492 1115,491 1116,491 1118,490 1119,490 1120,489 1121,487 1123,488 1125,489 1126,491 1128,493 1129,493 1130,494 1132,495 1133,497 1134,497 1136,497 1137,499 1138,501 1139,501 1140,503 1141,504 1142,506 1144,508 1145,509 1146,510 1147,511 1148,512 1148,513 1150,514 1151,515 1152,516 1153,517 1154,519 1155,521 1156,523 1157,523 1158,525 1159,526 1161,529 1163,529 1164,529 1166,531 1167,532 1169,532 1171,533 1172,534 1174,533 1175,535 1177,535 1178,536 1180,537 1182,536 1183,536 1185,538 1186,539 1187,540 1189,541 1190,541 1192,542 1193,542 1195,542 1196,542 1198,544 1200,543 1201,542 1203,541 1204,540 1205,538 1206,537 1207,540 1209,539 1211,540 1213,541 1214,542 1215,543 1217,545 1218,546 1219,548 1221,548 1222,549 1222,550 1223,551 1224,553 1225,554 1226,555 1227,557 1228,557 1230,559 1231,561 1232,561 1234,562 1236,563 1238,564 1240,563 1242,563 1243,562 1245,561 1246,561 1247,559 1248,557 1249,557 1250,556 1251,555 1252,554 1254,553 1255,552 1256,550 1257,549 1259,547 1260,548 1262,546 1263,546 1265,545 1266,544 1268,543 1269,542 1270,541 1272,540 1273,540 1274,537 1275,536 1276,536 1277,534 1277,532 1277,530 1278,529 1278,528 1279,527 1280,525 1280,527 1281,528 1282,530 1283,531 1285,532 1286,531 1287,530 1288,529 1288,528 1289,526 1290,524 1292,523 1293,525 1294,528 1295,529 1296,530 1298,531 1300,530 1302,531 1304,530 1305,530 1306,531 1307,534 1308,534 1309,533 1310,532 1310,530 1312,530 1314,529 1316,530 1318,531 1320,530 1322,530 1324,531 1325,532 1326,533 1327,535 1327,537 1328,536 1329,534 1330,536 1331,537 1332,539 1332,537 1333,535 1334,535 1334,533 1336,534 1337,536 1338,535 1340,534 1341,533 1342,534 1343,536 1344,536 1346,535 1347,535 1349,535 1351,536 1351,538 1352,540 1352,541 1352,543 1353,542 1353,540 1354,539 1355,538 1356,536 1357,539 1358,541 1359,542 1360,544 1361,545 1363,545 1364,546 1364,548 1365,549 1366,551 1367,552 1369,553 1370,552 1372,552 1373,550 1374,549 1374,547 1375,546 1375,544 1376,543 1376,541 1376,540 1377,538 1378,537 1378,535 1379,535 1380,534 1382,533 1383,534 1384,532 1386,531 1387,530 1388,529 1388,528 1389,526 1389,527 1390,529 1390,531 1391,532 1393,531 1393,530 1394,529 1395,527 1396,525 1396,523 1397,522 1399,521 1399,523 1399,524 1399,526 1400,527 1400,530 1402,528 1403,528 1404,530 1405,528 1406,527 1406,524 1406,523 1407,521 1407,519 1407,517 1407,516 1408,514 1408,512 1408,514 1409,515 1409,517 1409,519 1410,521 1410,522 1410,525 1410,526 1410,528 1411,528 1413,529 1414,529 1416,530 1416,531 1417,534 1418,534 1419,533 1420,532 1420,531 1421,528 1421,527 1424,527 1424,529 1425,531 1425,532 1426,534 1426,535 1427,533 1427,531 1428,529 1429,530 1430,530 1431,529 1432,527 1433,526 1434,526 1436,526 1437,524 1439,525 1440,526 1442,526 1443,529 1445,529 1445,530 1446,531 1446,533 1447,535 1448,538 1449,538 1450,540 1451,541 1451,539 1452,538 1452,536 1452,534 1453,532 1453,531 1453,529 1453,527 1453,526 1455,523 1456,523 1458,522 1460,520 1460,519 1461,517 1461,515 1462,513 1462,511 1462,510 1463,509 1463,507 1463,505 1464,504 1464,501 1465,500 1465,497 1466,496 1466,497 1467,498 1467,500 1468,502 1468,503 1468,506 1470,507 1471,504 1471,503 1471,502 1472,500 1472,498 1473,497 1473,495 1474,495 1475,493 1476,491 1476,490 1477,488 1478,486 1479,483 1479,482 1479,480 1479,478 1479,476 1479,474 1480,473 1481,471 1482,470 1482,467 1483,465 1483,464 1483,462 1483,460 1484,458 1484,457 1484,455 1485,453 1486,451 1486,449 1486,447 1486,446 1487,443 1487,442 1487,440 1487,438 1487,437 1487,435 1487,433 1487,432 1487,430 1488,428 1488,427 1488,425 1488,423 1488,421 1488,420 1489,418 1489,417 1489,415 1490,416 1490,418 1490,419 1491,421 1491,423 1491,424 1491,426 1491,428 1491,430 1492,431 1492,433 1492,435 1492,436 1492,438 1492,440 1493,442 1493,444 1493,446 1493,447 1494,449 1494,450 1494,452 1494,454 1495,455 1495,457 1495,459 1496,461 1496,463 1497,464 1497,465 1498,467 1499,469 1499,472 1500,473 1500,475 1501,477 1501,478 1501,480 1502,482 1502,485 1502,486 1503,488 1503,489 1503,491 1504,493 1504,494 1505,495 1506,495 1507,497 1507,499 1507,500 1507,502 1507,504 1508,506 1508,507 1508,509 1508,510 1509,513 1509,515 1509,516 1510,518 1510,519 1510,522 1510,523 1511,525 1511,527 1512,529 1512,530 1512,533 1513,534 1513,536 1513,538 1514,539 1514,541 1515,543 1515,544 1515,546 1516,547 1516,548 1517,550 1517,552 1517,553 1518,555 1518,556 1519,558 1519,559 1519,560 1520,562 1520,564 1521,565 1521,567 1522,568 1522,569 1523,571 1523,572 1523,574 1524,576 1524,578 1524,579 1525,581 1525,583 1525,585 1526,586 1526,589 1527,590 1527,592 1528,594 1528,596 1529,598 1529,600 1530,600 1530,602 1531,603 1531,605 1532,608 1532,609 1532,611 1533,613 1534,615 1534,617 1535,618 1535,620 1535,622 1536,624 1536,626 1536,628 1537,630 1537,632 1538,634 1538,635 1538,637 1539,639 1539,641 1539,643 1539,645 1540,646 1540,648 1540,650 1540,652 1541,653 1541,655 1541,656 1542,658 1542,660 1542,661 1542,663 1543,665 1543,666 1543,668 1543,670 1543,671 1543,673 1544,675 1544,676 1544,678 1544,680 1544,681 1544,683 1545,685 1545,686 1545,688 1545,690 1545,691 1545,693 1546,695 1546,696 1546,698 1546,700 1546,702 1546,703 1547,705 1547,706 1547,708 1547,710 1547,711 1547,713 1547,714 1547,717 1547,718 1548,720 1548,721 1548,723 1548,725 1548,727 1548,728 1548,730 1549,732 1549,733 1549,735 1549,736 1549,738 1549,740 1550,742 1550,744 1550,745 1550,747 1550,748 1550,750 1551,752 1551,753 1551,755 1551,757 1551,758 1551,760 1552,762 1552,763 1552,765 1552,767 1552,768 1552,770 1552,772 1553,774 1553,775 1553,777 1553,779 1553,780 1553,782 1553,783 1553,785 1554,787 1554,789 1554,790 1554,792 1554,794 1554,795 1554,797 1554,798 1554,800 1554,802 1554,804 1554,805 1554,807 1555,809 1555,810 1555,812 1555,813 1555,815 1555,817 1555,818 1556,816 1556,815 1556,813 1556,812 1557,810 1557,809 1558,807 1559,806 1560,807 1561,809 1561,810 1561,812 1562,814 1562,815 1562,817 1562,818 1563,820 1563,822 1564,823 1564,825 1565,826 1566,828 1566,829 1567,831 1568,833 1569,834 1569,836 1570,838 1571,839 1572,842 1573,841 1574,844 1575,844 1577,845 1578,845 1580,845 1581,846 1582,848 1582,850 1584,850 1586,850 1587,850 1589,853 1591,853 1592,855 1593,857 1594,857 1595,856 1597,857 1598,858 1599,858 1600,861 1601,860 1603,862 1605,863 1606,864 1608,863 1608,865 1609,866 1610,866 1611,864 1612,863 1613,864 1614,865 1615,864 1616,862 1617,862 1618,862 1618,864 1619,866 1620,867 1620,868 1621,870 1622,872 1623,873 1623,876 1624,877 1625,878 1625,879 1626,881 1626,883 1627,884 1627,886 1628,888 1628,890 1628,892 1629,893 1629,895 1630,896 1630,897 1631,898 1632,900 1633,901 1635,902 1636,904 1636,905 1637,907 1637,909 1638,910 1639,912 1640,914 1640,915 1642,913 1643,912 1644,912 1645,910 1646,912 1647,913 1647,914 1648,917 1648,915 1649,913 1649,912 1649,910 1649,908 1650,907 1651,909 1652,908 1653,910 1653,912 1653,914 1654,916 1654,918 1655,916 1656,915 1657,913 1657,912 1658,910 1658,909 1658,906 1659,905 1659,904 1660,902 1661,900 1662,901 1662,903 1663,905 1664,904 1665,903 1666,902 1667,900 1667,898 1667,896 1668,895 1668,893 1668,892 1669,890 1669,888 1669,887 1670,885 1670,883 1672,884 1673,882 1673,880 1673,878 1674,876 1674,875 1674,873 1674,872 1675,870 1675,869 1675,867 1675,866 1676,864 1676,862 1676,861 1677,859 1677,858 1677,856 1678,855 1678,853 1678,851 1678,849 1679,849 1679,846 1679,845 1679,843 1679,842 1680,840 1680,838 1680,837 1680,835 1680,833 1681,832 1681,830 1681,828 1681,827 1681,825 1682,823 1682,821 1682,820 1682,819 1682,817 1682,815 1683,813 1683,812 1683,810 1683,808 1683,807 1683,805 1684,803 1684,802 1684,800 1684,799 1684,797 1684,795 1685,794 1685,792 1685,790 1685,788 1685,787 1685,785 1686,784 1686,782 1686,780 1686,779 1686,777 1686,775 1686,774 1687,772 1687,770 1687,768 1687,767 1687,765 1687,764 1687,762 1687,760 1688,759 1688,757 1688,755 1688,754 1688,752 1688,750 1688,749 1689,747 1689,745 1689,744 1689,742 1689,740 1689,738 1689,737 1690,735 1690,733 1690,732 1690,730 1691,729 1691,727 1691,725 1691,724 1692,722 1692,720 1692,719 1692,717 1692,715 1693,714 1693,712 1693,711 1693,709 1694,707 1694,706 1694,704 1695,703 1695,701 1695,699 1696,697 1696,695 1696,694 1696,693 1697,690 1697,689 1697,687 1697,685 1699,684 1700,683 1701,683 1703,681 1704,681 1705,679 1708,680 1708,681 1709,683 1710,681 1710,679 1710,678 1711,677 1711,675 1712,674 1713,675 1714,675 1714,676 1715,679 1715,677 1716,675 1716,674 1717,673 1718,671 1719,672 1720,674 1721,672 1722,671 1723,669 1723,668 1724,666 1725,667 1726,669 1728,668 1728,666 1728,665 1728,664 1729,662 1729,660 1729,659 1730,657 1730,655 1731,656 1732,657 1733,659 1733,661 1734,663 1734,664 1735,662 1735,659 1736,658 1736,656 1737,655 1737,652 1738,651 1738,652 1738,654 1739,656 1739,658 1739,659 1740,661 1740,662 1740,664 1741,666 1741,667 1741,668 1742,667 1743,665 1744,667 1744,668 1744,670 1745,671 1745,674 1746,676 1746,677 1746,678 1747,680 1747,682 1747,683 1748,685 1748,686 1748,688 1748,689 1748,691 1748,693 1749,695 1749,697 1749,698 1749,700 1750,702 1750,703 1750,705 1750,707 1750,709 1751,710 1751,712 1751,714 1751,716 1751,717 1751,719 1752,721 1752,722 1752,724 1752,726 1752,727 1752,729 1752,731 1753,733 1753,734 1753,736 1753,738 1753,739 1753,741 1753,742 1753,744 1754,746 1754,747 1754,749 1754,751 1754,753 1754,754 1754,756 1754,758 1754,759 1755,761 1755,763 1755,765 1755,766 1755,768 1755,769 1755,771 1755,773 1756,774 1756,776 1756,778 1756,780 1756,782 1756,783 1756,785 1756,787 1757,788 1757,790 1758,791 1759,791 1761,790 1761,791 1761,793 1762,795 1762,796 1762,797 1763,799 1763,801 1763,802 1764,804 1764,805 1764,807 1764,809 1765,810 1765,812 1765,814 1765,815 1766,817 1766,819 1766,821 1766,822 1767,824 1767,826 1767,827 1767,829 1768,830 1768,832 1768,834 1769,836 1769,834 1769,833 1770,831 1770,829 1770,827 1770,826 1770,823 1770,822 1770,820 1771,819 1771,817 1771,815 1771,814 1771,812 1771,810 1771,808 1771,807 1772,805 1772,804 1772,802 1772,800 1772,798 1772,797 1772,795 1773,793 1773,791 1773,790 1773,788 1773,786 1773,785 1774,783 1774,781 1774,779 1774,777 1774,776 1775,774 1775,772 1775,770 1776,768 1777,766 1778,768 1779,766 1779,764 1780,762 1781,760 1781,763 1782,764 1782,765 1782,768 1783,766 1784,765 1786,763 1786,765 1787,767 1787,768 1787,770 1788,771 1788,774 1789,772 1789,770 1789,769 1789,767 1790,765 1791,766 1791,768 1792,766 1792,764 1792,763 1793,762 1793,760 1794,759 1795,758 1796,756 1796,754 1797,753 1797,751 1797,749 1797,747 1798,746 1798,744 1798,742 1798,740 1800,739 1801,738 1801,736 1802,735 1802,734 1802,732 1802,730 1802,729 1803,727 1803,726 1803,723 1804,722 1804,720 1805,718 1805,717 1806,716 1807,714 1808,715 1809,717 1810,718 1810,719 1811,721 1811,723 1811,724 1811,726 1811,728 1811,730 1812,731 1812,733 1812,735 1812,736 1812,738 1812,740 1812,741 1813,743 1813,745 1813,747 1814,748 1814,750 1815,751 1816,749 1816,748 1816,747 1817,746 1817,744 1817,742 1817,741 1817,739 1817,737 1817,736 1817,734 1817,732 1817,731 1818,729 1818,728 1818,726 1818,724 1818,723 1818,721 1818,720 1818,718 1818,716 1818,714 1818,713 1819,711 1819,710 1819,708 1819,706 1819,704 1819,702 1819,701 1820,699 1820,697 1820,695 1820,693 1820,692 1820,690 1821,687 1822,686 1822,684 1823,682 1823,680 1824,678 1824,677 1824,675 1824,673 1824,672 1825,670 1825,668 1826,666 1828,667 1830,668 1830,669 1831,670 1832,672 1832,670 1832,669 1833,667 1833,665 1834,664 1835,665 1836,665 1836,663 1837,663 1838,661 1839,662 1840,663 1841,666 1842,667 1843,668 1844,665 1845,662 1846,664 1846,666 1847,668 1847,669 1848,671 1848,673 1849,674 1849,675 1849,677 1850,679 1850,680 1850,682 1850,684 1851,682 1851,680 1852,679 1852,677 1852,675 1854,674 1855,673 1855,670 1856,669 1856,668 1857,666 1857,665 1858,663 1858,661 1860,660 1862,658 1863,658 1864,660 1864,662 1864,663 1864,665 1865,667 1865,669 1865,671 1865,672 1865,674 1865,673 1866,671 1866,670 1867,668 1868,667 1868,669 1868,671 1869,672 1869,673 1869,675 1869,677 1869,679 1869,681 1870,682 1870,684 1870,686 1871,687 1873,686 1873,684 1873,682 1873,681 1873,679 1873,677 1873,676 1873,674 1874,673 1874,670 1874,669 1875,670 1875,672 1876,673 1878,674 1878,676 1879,677 1879,679 1879,681 1880,682 1880,684 1880,685 1881,688 1881,690 1881,691 1882,689 1882,688 1882,686 1882,684 1882,682 1883,681 1883,679 1884,682 1885,682 1885,685 1885,686 1886,687 1886,686 1887,685 1887,683 1887,681 1888,681 1889,683 1890,685 1890,686 1890,688 1890,689 1891,691 1891,693 1891,694 1891,696 1891,698 1891,700 1891,701 1891,703 1892,705 1892,706 1892,708 1894,708 1894,709 1895,711 1896,709 1896,707 1896,705 1896,704 1897,702 1897,700 1897,698 1897,696 1897,695 1897,693 1898,691 1898,689 1898,688 1898,689 1898,691 1898,693 1899,695 1899,697 1899,698 1899,700 1899,702 1900,704 1900,705 1900,708 1900,709 1901,711 1902,713 1902,715 1902,716 1902,718 1903,720 1903,722 1903,723 1904,725 1905,723 1905,721 1905,720 1905,719 1906,717 1906,715 1906,713 1906,712 1907,710 1907,708 1907,706 1907,704 1908,706 1908,708 1908,710 1909,712 1909,713 1909,715 1909,716 1910,718 1910,720 1910,721 1910,724 1911,725 1911,727 1911,729 1912,728 1912,727 1912,724 1913,722 1913,721 1913,720 1914,721 1914,723 1914,725 1914,727 1914,728 1914,730 1915,732 1915,734 1915,735 1915,737 1915,739 1915,740 1916,742 1916,744 1916,745 1916,747 1917,746 1917,743 1918,742 1918,740 1918,738 1918,737 1918,735 1918,733 1918,732 1918,730 1918,729 1918,727 1919,725 1919,723 1919,725 1919,727 1919,729 1920,731 1920,733 1920,734 1920,736 1921,738 1921,739 1921,741 1921,739 1921,737 1921,736 1921,734 1922,732 1922,730 1922,729 1922,727 1922,725 1922,723 1922,722 1922,720 1922,718 1922,717 1922,715 1922,713 1923,711 1923,709 1923,707 1923,706 1923,704 1923,706 1923,708 1924,710 1924,711 1924,713 1924,714 1925,716 1925,718 1925,720 1925,722 1925,723 1925,725 1925,727 1926,728 1926,730 1926,728 1926,726 1927,725 1927,723 1927,721 1927,720 1928,718 1928,716 1929,714 1929,712 1929,714 1930,716 1930,718 1930,719 1930,721 1930,723 1930,724 1931,726 1931,728 1931,729 1931,731 1931,733 1931,735 1931,736 1932,739 1932,740 1932,738 1933,736 1933,735 1933,734 1933,732 1934,730 1934,729 1934,730 1934,732 1934,733 1934,735 1934,737 1934,739 1934,740 1935,742 1935,743 1935,745 1935,747 1935,748 1935,750 1935,748 1935,747 1936,745 1936,743 1936,741 1936,739 1936,738 1937,736 1937,734 1937,733 1937,731 1937,730 1937,728 1938,726 1938,725 1938,727 1938,728 1938,730 1938,732 1938,733 1938,735 1938,737 1939,739 1939,740 1939,742 1939,744 1939,746 1939,747 1939,749 1939,751 1939,752 1940,754 1940,756 1940,758 1940,757 1941,755 1941,753 1942,755 1942,756 1943,758 1943,760 1943,761 1943,763 1943,765 1943,766 1943,768 1943,770 1945,771 1945,773 1945,775 1945,777 1945,779 1945,780 1945,782 1945,784 1945,786 1946,787 1946,789 1946,791 1946,793 1946,794 1946,796 1946,797 1946,799 1946,801 1947,802 1947,804 1947,806 1947,807 1947,809"/>
<polyline fill="none" stroke="#000000" stroke-width="4.2" stroke-linejoin="round" stroke-linecap="butt" points="132,209 134,208 135,208 137,209 138,208 140,207 142,209 143,210 145,211 147,209 149,208 151,210 152,209 154,210 156,210 157,210 159,210 160,212 162,211 163,211 165,211 166,212 168,213 169,211 171,210 172,211 174,211 175,211 177,211 178,211 180,214 181,213 182,215 184,213 185,213 186,212 187,214 188,216 189,216 191,217 192,215 194,215 196,216 197,215 198,217 199,218 200,219 201,221 202,220 204,221 205,218 207,219 208,218 209,219 211,219 212,220 214,220 215,222 217,222 219,221 221,220 222,222 224,222 225,224 227,223 228,224 230,225 231,226 233,226 234,225 235,223 236,222 237,223 238,225 239,227 240,227 241,228 242,230 243,231 245,232 246,233 248,235 249,234 251,235 251,237 252,238 253,240 254,241 255,242 255,245 256,246 257,247 257,249 258,251 258,252 258,254 259,256 259,257 259,259 260,260 260,262 260,264 260,266 260,268 260,269 260,271 260,272 260,274 261,276 261,278 261,279 261,281 261,282 261,284 261,286 261,287 261,289 261,291 261,292 261,294 261,296 261,298 261,299 261,301 261,303 261,304 261,306 261,308 261,310 261,311 261,313 261,315 261,317 261,318 261,320 261,322 262,323 262,325 262,327 262,328 262,330 262,332 262,333 262,335 262,337 262,338 262,340 262,342 263,344 263,346 263,347 264,349 264,347 264,345 264,344 265,343 265,341 265,339 265,337 265,336 266,334 266,332 266,331 266,329 266,328 266,326 267,324 267,323 267,321 267,319 267,317 267,316 268,314 268,312 268,311 268,309 268,307 269,305 269,304 269,302 269,300 270,298 270,296 271,294 271,293 271,291 272,293 273,295 274,295 275,296 276,297 277,299 278,300 279,301 279,304 280,306 280,307 281,309 282,310 282,312 283,314 284,315 285,316 286,318 287,319 287,321 288,323 288,325 289,327 290,328 290,330 291,332 291,333 292,334 293,337 293,338 294,340 295,342 296,344 297,345 298,348 299,349 300,350 302,351 303,354 303,355 304,357 305,359 306,360 307,362 309,364 310,364 311,366 312,367 313,369 314,369 315,368 316,366 317,366 318,367 320,367 321,367 323,367 324,367 326,366 327,367 329,367 330,368 332,369 333,370 335,369 336,369 338,370 339,371 341,371 342,373 344,373 345,372 347,372 348,373 349,374 350,377 351,377 353,378 355,379 356,379 358,381 359,382 361,383 362,384 364,385 365,386 367,388 368,387 370,388 371,389 372,390 373,391 374,394 375,394 376,395 378,397 379,397 380,399 381,400 383,399 384,399 386,401 387,402 388,404 390,403 391,406 393,406 394,406 396,406 397,407 399,407 400,407 402,408 403,410 404,411 406,411 407,411 409,410 411,411 413,411 414,413 416,413 418,412 420,413 421,413 423,411 424,412 426,412 427,411 429,411 430,410 432,411 433,411 435,412 436,413 438,413 440,413 442,411 443,413 445,414 447,412 448,414 450,414 452,413 453,412 455,412 456,411 458,410 460,412 462,410 464,410 465,412 467,411 468,412 470,413 471,413 473,410 474,411 476,410 478,411 480,411 481,410 483,409 484,408 486,408 488,408 490,408 492,408 493,407 495,405 496,406 498,405 499,404 501,404 502,404 504,404 505,403 506,404 508,402 509,402 511,403 512,402 514,402 515,401 517,398 518,398 520,398 521,397 523,398 524,397 526,396 527,396 529,395 530,395 531,395 533,393 534,392 536,392 537,391 539,389 540,391 542,391 543,390 544,388 545,388 547,386 548,385 549,384 551,384 553,382 553,381 554,380 555,379 556,377 558,376 560,376 561,374 562,374 564,372 566,372 568,370 569,370 570,368 571,367 572,368 573,366 575,366 576,365 577,363 579,362 580,362 581,359 583,358 584,357 585,355 587,355 589,354 591,353 593,353 594,352 596,351 598,350 599,349 601,350 602,349 604,348 606,348 607,347 609,348 611,347 612,347 613,347 615,346 617,345 619,346 621,346 622,345 623,345 624,343 625,343 627,339 628,339 629,339 631,340 633,338 634,335 635,336 636,334 638,333 639,331 640,331 641,330 643,329 644,328 645,326 646,327 648,326 649,325 651,324 653,324 654,324 655,322 657,321 658,321 660,319 662,319 663,318 665,317 667,316 668,316 670,315 672,317 673,315 674,314 675,314 676,311 677,310 678,309 679,306 680,306 681,303 682,302 683,300 683,299 684,297 685,296 687,294 688,293 689,293 690,292 691,293 692,294 693,296 695,297 696,298 698,297 700,296 701,296 703,295 705,295 706,293 707,293 708,291 710,290 711,289 713,289 714,288 716,286 718,286 718,285 719,284 720,282 721,280 721,279 722,277 723,275 724,274 725,272 726,271 727,274 728,274 730,276 731,276 733,278 734,277 736,275 737,275 738,275 740,274 741,273 742,272 743,271 745,271 746,269 748,268 749,268 751,266 752,264 753,264 755,262 756,262 757,261 758,260 760,259 762,260 763,258 765,258 767,256 768,255 769,254 770,253 771,249 772,249 773,248 775,247 776,250 778,249 779,251 781,251 782,249 784,250 785,249 787,248 788,247 790,247 791,247 793,246 795,247 796,247 798,247 800,247 801,246 803,245 804,245 805,244 807,243 808,243 810,242 812,243 813,241 815,241 817,240 819,239 821,239 822,238 824,240 826,239 828,238 830,236 831,236 833,237 835,236 837,234 838,235 840,235 841,234 843,233 844,233 846,232 847,231 849,230 850,229 852,231 853,231 855,229 856,230 858,230 859,229 861,229 862,228 864,227 866,227 867,227 869,227 870,227 872,225 873,225 875,225 876,226 878,225 879,226 881,226 882,225 884,227 885,226 887,225 888,223 890,224 891,224 893,224 894,224 896,223 898,221 900,220 902,220 903,219 904,220 905,218 907,216 909,217 910,217 912,218 913,216 915,216 917,216 918,215 920,215 921,216 923,215 925,215 926,215 928,215 930,216 931,216 933,215 934,214 935,211 937,211 938,210 940,209 942,209 943,208 945,207 945,205 945,203 946,202 946,200 946,199 947,197 947,196 948,194 948,193 949,195 950,197 950,198 950,200 951,202 951,203 951,205 952,207 952,209 953,210 954,212 955,213 956,213 957,216 959,216 960,216 962,215 964,215 966,215 967,218 968,218 970,219 971,220 972,221 973,222 974,223 975,224 976,222 977,221 977,220 978,222 979,223 980,224 981,224 982,222 984,224 985,225 986,224 987,225 988,227 989,229 990,228 991,230 992,231 994,233 995,235 996,233 997,231 998,230 1000,231 1001,232 1002,232 1004,230 1005,231 1007,230 1008,232 1010,232 1012,234 1013,233 1015,235 1016,235 1018,234 1019,235 1021,235 1023,234 1025,234 1026,235 1028,235 1029,234 1031,235 1032,236 1034,236 1036,237 1037,236 1039,238 1040,238 1042,237 1044,237 1046,237 1047,237 1049,237 1050,239 1052,238 1053,236 1055,236 1056,237 1057,237 1059,238 1060,238 1062,238 1064,239 1065,237 1067,237 1069,238 1070,238 1072,238 1074,239 1075,237 1077,239 1079,239 1080,238 1082,238 1083,240 1085,239 1087,238 1088,238 1090,238 1091,237 1093,238 1094,238 1096,238 1097,238 1099,237 1100,238 1102,239 1104,239 1105,241 1107,239 1108,239 1110,240 1112,240 1113,239 1115,241 1117,239 1118,238 1119,238 1121,237 1122,238 1123,239 1125,240 1126,240 1127,241 1128,243 1129,244 1131,245 1132,246 1134,246 1135,248 1137,247 1139,249 1140,248 1141,250 1142,251 1143,253 1145,253 1146,254 1147,256 1148,257 1150,257 1151,258 1153,258 1154,259 1156,260 1157,262 1158,262 1159,264 1160,264 1162,264 1163,266 1164,267 1166,269 1167,268 1169,270 1170,270 1172,270 1174,269 1175,271 1177,271 1179,272 1180,272 1182,272 1183,270 1185,272 1186,272 1188,270 1189,271 1191,271 1192,272 1194,272 1195,271 1197,271 1199,272 1200,271 1201,270 1203,269 1204,270 1205,270 1207,271 1209,272 1211,271 1212,271 1214,269 1215,271 1216,272 1218,274 1219,275 1220,276 1221,278 1222,279 1224,280 1225,280 1226,282 1228,283 1229,284 1231,285 1232,285 1234,284 1236,286 1238,286 1240,286 1241,284 1243,286 1245,285 1246,285 1247,284 1249,283 1250,282 1251,281 1252,280 1254,278 1255,278 1257,277 1258,275 1260,274 1261,274 1263,273 1264,272 1265,270 1267,270 1268,269 1270,267 1271,266 1273,265 1274,266 1276,264 1276,262 1277,262 1277,260 1277,258 1278,256 1279,254 1280,253 1281,256 1282,257 1283,259 1285,260 1286,258 1287,258 1288,256 1289,254 1290,253 1292,251 1294,252 1294,253 1294,256 1295,258 1295,259 1296,260 1297,262 1298,262 1300,262 1301,262 1303,263 1304,265 1305,264 1307,266 1308,268 1310,268 1311,268 1313,270 1314,270 1315,271 1316,273 1317,274 1318,276 1319,275 1320,278 1321,279 1322,281 1323,282 1323,283 1324,286 1325,286 1325,288 1327,287 1328,286 1330,286 1332,286 1333,287 1335,287 1335,289 1336,290 1337,291 1338,292 1339,294 1340,295 1341,296 1342,299 1342,300 1343,301 1344,303 1344,305 1345,306 1345,308 1346,309 1346,310 1348,310 1349,311 1349,313 1350,314 1350,316 1350,318 1350,319 1350,321 1351,323 1351,324 1352,325 1352,327 1353,328 1353,330 1353,332 1355,330 1356,332 1356,334 1357,335 1357,336 1358,338 1358,340 1359,340 1360,342 1361,342 1362,343 1364,341 1365,342 1366,340 1367,339 1367,337 1368,336 1369,334 1369,332 1369,331 1370,329 1370,327 1370,325 1371,324 1371,322 1371,320 1372,319 1372,317 1372,316 1373,314 1373,312 1373,311 1374,309 1374,307 1374,306 1375,304 1375,302 1375,300 1376,298 1376,296 1377,295 1377,294 1378,293 1378,290 1379,289 1379,288 1380,287 1380,285 1381,284 1381,282 1382,280 1382,279 1383,278 1385,276 1386,275 1387,275 1388,273 1388,271 1389,270 1389,268 1390,267 1391,268 1393,266 1394,264 1396,264 1397,263 1397,260 1397,259 1398,257 1398,255 1398,254 1399,256 1400,257 1400,259 1400,260 1401,262 1401,264 1402,265 1404,263 1405,263 1406,261 1407,259 1407,261 1407,262 1408,264 1408,266 1408,267 1408,269 1409,267 1409,265 1410,263 1410,262 1411,260 1412,259 1412,258 1413,259 1414,261 1414,262 1415,263 1416,265 1417,266 1418,264 1419,264 1419,262 1420,261 1421,259 1422,258 1423,258 1423,259 1424,261 1425,262 1425,263 1425,266 1425,267 1426,268 1426,266 1426,265 1427,263 1427,262 1427,260 1429,259 1430,258 1432,258 1433,256 1434,255 1435,253 1436,251 1437,253 1438,254 1440,256 1441,257 1443,257 1444,257 1445,255 1446,255 1447,253 1448,250 1449,249 1450,248 1451,248 1451,246 1451,245 1452,244 1452,242 1453,240 1454,239 1455,238 1456,236 1457,235 1458,236 1459,236 1459,234 1460,233 1460,231 1461,229 1461,228 1461,227 1462,224 1462,223 1462,222 1463,220 1463,219 1464,217 1464,215 1465,213 1466,211 1467,209 1468,208 1469,208 1470,206 1471,205 1471,203 1471,201 1472,199 1473,197 1473,196 1474,194 1474,192 1474,190 1475,188 1476,187 1477,186 1478,185 1478,184 1480,184 1481,182 1482,180 1483,178 1483,177 1484,176 1484,174 1484,172 1484,170 1485,169 1485,167 1485,166 1485,164 1486,162 1486,161 1486,160 1486,158 1486,157 1486,155 1487,154 1487,152 1487,151 1487,149 1487,147 1487,146 1487,144 1487,142 1487,141 1487,139 1487,137 1488,136 1488,134 1488,133 1488,131 1488,129 1488,128 1488,126 1488,124 1488,123 1488,121 1488,119 1488,118 1488,116 1488,115 1488,113 1488,111 1488,110 1488,108 1488,106 1488,104 1488,103 1489,101 1489,99 1489,98 1489,96 1489,94 1489,92 1489,90 1489,92 1489,94 1490,96 1490,98 1490,99 1490,101 1490,103 1490,105 1490,106 1490,108 1490,110 1490,111 1490,113 1490,115 1490,116 1490,118 1490,119 1491,121 1491,123 1491,124 1491,126 1491,128 1491,129 1491,131 1491,133 1491,134 1491,136 1491,138 1491,139 1492,141 1492,142 1492,144 1492,146 1492,147 1492,149 1492,150 1492,152 1492,154 1493,155 1493,157 1493,158 1493,160 1493,161 1494,163 1494,164 1494,165 1495,167 1495,169 1495,170 1495,171 1496,173 1496,174 1496,176 1496,178 1496,179 1496,180 1496,182 1497,183 1497,185 1497,186 1497,188 1498,189 1498,191 1498,193 1499,193 1499,195 1499,197 1500,198 1500,200 1500,202 1501,203 1503,205 1503,207 1504,208 1504,209 1504,211 1505,213 1505,215 1506,216 1506,217 1506,219 1506,221 1507,222 1507,224 1507,226 1508,228 1508,229 1508,231 1508,233 1508,235 1508,236 1509,238 1509,240 1509,242 1509,243 1509,245 1510,246 1510,248 1510,250 1510,252 1511,253 1511,255 1511,256 1511,258 1512,260 1512,262 1513,263 1513,264 1514,266 1514,268 1514,270 1515,272 1515,273 1515,275 1516,277 1516,278 1516,280 1517,281 1517,283 1518,285 1518,287 1519,288 1519,290 1520,291 1520,293 1521,295 1521,296 1522,298 1522,299 1523,300 1524,303 1525,305 1525,307 1526,308 1526,309 1527,311 1527,312 1527,314 1528,316 1528,318 1529,319 1529,320 1530,322 1530,324 1531,326 1531,327 1532,329 1532,331 1532,332 1533,333 1533,335 1534,337 1534,338 1535,339 1535,342 1535,343 1536,344 1536,346 1537,347 1537,349 1538,350 1538,352 1538,353 1539,355 1539,357 1539,358 1540,360 1540,363 1540,364 1541,366 1541,367 1541,368 1541,371 1542,372 1542,374 1542,376 1543,377 1543,379 1543,381 1544,383 1544,384 1544,386 1545,388 1545,390 1545,391 1546,393 1546,394 1546,396 1546,398 1546,400 1546,402 1547,403 1547,405 1547,407 1547,408 1548,410 1548,412 1548,414 1548,415 1549,417 1549,418 1549,420 1550,422 1550,423 1550,425 1550,427 1550,429 1551,430 1551,432 1551,434 1551,436 1551,437 1552,439 1552,441 1552,442 1552,444 1552,446 1552,447 1553,449 1553,451 1553,453 1553,454 1553,456 1554,458 1554,459 1554,461 1554,463 1554,465 1555,466 1555,468 1555,470 1555,471 1555,474 1555,475 1556,477 1556,478 1556,480 1556,482 1556,483 1557,485 1557,487 1557,489 1557,490 1557,492 1558,493 1558,495 1558,497 1558,499 1558,501 1559,502 1559,504 1559,506 1559,507 1559,509 1560,511 1560,512 1560,514 1561,515 1561,518 1561,519 1562,521 1562,523 1562,525 1563,526 1563,528 1563,530 1563,531 1563,533 1564,535 1564,536 1565,537 1565,539 1566,541 1566,543 1567,543 1568,545 1568,547 1570,548 1571,549 1572,551 1573,553 1574,555 1574,556 1576,557 1578,558 1579,560 1580,559 1581,560 1582,562 1583,562 1585,563 1586,562 1588,562 1590,563 1591,564 1592,567 1592,568 1593,568 1595,567 1597,568 1597,569 1598,570 1599,572 1600,574 1601,575 1602,576 1603,574 1604,571 1606,571 1607,572 1608,574 1609,575 1609,576 1610,576 1611,579 1612,578 1614,576 1615,575 1616,577 1617,578 1618,579 1618,581 1619,582 1621,581 1621,582 1622,584 1622,585 1623,587 1624,586 1626,585 1626,586 1627,588 1628,590 1629,591 1629,592 1630,593 1631,595 1632,594 1633,593 1633,595 1634,596 1634,598 1634,599 1635,601 1635,602 1636,602 1638,601 1639,603 1639,605 1640,607 1641,608 1642,609 1643,608 1644,607 1644,605 1645,603 1645,605 1646,606 1646,608 1647,610 1649,611 1650,611 1651,612 1652,612 1653,611 1654,608 1656,608 1657,607 1659,606 1660,604 1661,602 1661,601 1662,600 1662,598 1664,597 1666,596 1667,596 1668,595 1669,593 1669,591 1669,589 1669,588 1670,586 1670,584 1670,582 1671,581 1671,579 1672,577 1672,576 1672,575 1673,573 1673,570 1673,569 1674,567 1674,565 1674,564 1675,562 1675,560 1675,558 1676,557 1676,555 1676,553 1677,552 1677,550 1677,548 1677,547 1677,545 1678,543 1678,542 1678,540 1678,538 1679,536 1679,534 1679,533 1679,532 1679,530 1680,528 1680,526 1680,524 1680,523 1681,521 1681,520 1681,517 1681,516 1681,514 1681,513 1682,511 1682,509 1682,507 1682,506 1683,504 1683,502 1683,501 1683,499 1684,497 1684,495 1684,494 1684,492 1685,490 1685,489 1685,487 1685,485 1685,484 1686,482 1686,480 1686,478 1686,476 1687,475 1687,473 1687,471 1687,470 1688,468 1689,466 1690,465 1691,462 1692,461 1692,460 1694,457 1695,460 1695,461 1695,462 1696,465 1696,467 1697,468 1697,470 1698,471 1698,472 1698,474 1700,475 1701,473 1702,475 1702,476 1703,478 1704,480 1704,482 1705,480 1706,478 1706,477 1707,476 1708,474 1709,472 1710,472 1712,471 1712,470 1712,467 1713,466 1713,465 1713,463 1715,464 1716,465 1716,464 1717,462 1717,461 1718,460 1718,458 1718,456 1719,455 1719,453 1719,452 1720,452 1721,455 1721,456 1722,455 1723,453 1723,451 1723,449 1724,448 1724,446 1724,445 1724,442 1725,440 1725,439 1725,437 1726,436 1727,434 1727,433 1728,431 1728,429 1728,428 1729,426 1730,426 1732,424 1733,423 1733,421 1734,419 1735,418 1736,417 1737,416 1737,414 1737,412 1737,411 1738,410 1738,408 1738,406 1738,405 1739,407 1739,408 1740,409 1740,407 1741,405 1741,404 1742,402 1742,400 1743,403 1744,403 1745,406 1745,404 1745,402 1746,401 1746,398 1746,397 1747,395 1747,393 1749,396 1751,395 1752,395 1753,392 1754,391 1755,391 1757,392 1758,391 1759,392 1760,393 1760,394 1761,397 1761,398 1761,400 1761,402 1762,404 1762,405 1763,407 1765,408 1765,410 1765,411 1765,413 1766,414 1766,416 1766,417 1767,420 1767,421 1769,420 1769,423 1769,424 1769,426 1769,428 1769,430 1769,431 1770,433 1770,435 1770,436 1770,438 1772,440 1773,438 1773,436 1774,438 1774,439 1774,441 1775,442 1775,444 1775,446 1776,448 1776,449 1776,451 1777,453 1777,455 1777,456 1777,458 1778,456 1779,455 1780,457 1780,458 1780,460 1780,461 1780,463 1781,464 1782,466 1783,468 1783,470 1784,472 1784,474 1785,476 1785,478 1786,479 1788,479 1789,479 1790,477 1790,479 1790,480 1790,481 1790,484 1791,485 1791,486 1792,489 1793,487 1793,485 1793,483 1794,482 1794,480 1794,478 1794,476 1796,474 1798,475 1798,474 1799,472 1799,470 1800,469 1800,467 1800,466 1800,464 1800,462 1801,461 1801,459 1803,457 1803,456 1803,454 1803,453 1803,451 1804,449 1804,448 1804,446 1804,444 1804,442 1804,441 1804,439 1805,437 1806,436 1806,434 1806,433 1807,431 1807,429 1807,428 1808,427 1808,425 1808,423 1808,421 1809,419 1809,418 1810,418 1811,416 1812,415 1813,414 1814,415 1814,416 1815,419 1816,420 1816,419 1817,417 1817,415 1817,414 1818,412 1818,411 1818,409 1818,408 1819,409 1820,411 1820,413 1820,415 1821,417 1821,415 1821,413 1822,411 1823,410 1823,408 1824,405 1825,403 1825,401 1827,403 1827,404 1827,406 1828,408 1829,405 1829,404 1830,401 1831,400 1831,398 1831,396 1831,394 1831,393 1832,392 1833,394 1833,396 1833,398 1834,399 1834,401 1834,403 1834,404 1834,406 1835,408 1835,410 1835,408 1836,406 1836,404 1837,402 1837,400 1838,399 1839,401 1839,402 1841,402 1842,402 1843,405 1844,403 1845,402 1846,399 1847,399 1848,401 1848,403 1849,404 1849,402 1850,401 1850,399 1850,398 1850,396 1851,394 1851,393 1852,391 1853,390 1853,389 1854,386 1854,388 1855,390 1855,391 1856,393 1857,394 1857,395 1858,396 1858,398 1859,399 1860,401 1861,402 1863,402 1864,403 1864,405 1865,408 1865,406 1866,404 1867,402 1867,400 1868,399 1868,400 1869,402 1869,404 1869,405 1870,406 1870,408 1870,409 1870,411 1870,413 1870,415 1870,417 1871,419 1871,420 1871,419 1872,417 1872,415 1872,413 1873,416 1874,418 1874,419 1875,420 1875,422 1876,423 1877,425 1877,426 1877,424 1878,422 1878,420 1879,418 1880,416 1881,415 1881,417 1881,418 1882,420 1882,421 1882,422 1883,425 1883,427 1884,426 1884,425 1885,423 1886,422 1887,421 1887,422 1887,424 1887,426 1888,428 1888,429 1888,431 1888,433 1888,435 1888,436 1888,438 1888,440 1888,441 1888,443 1889,445 1889,446 1889,447 1889,449 1890,450 1891,451 1891,450 1891,449 1892,447 1892,445 1892,443 1892,442 1892,440 1893,438 1894,436 1895,438 1897,438 1897,439 1897,441 1897,442 1897,444 1897,446 1898,447 1898,448 1898,450 1898,449 1899,448 1899,446 1899,444 1899,443 1900,441 1900,440 1900,438 1900,436 1900,438 1901,440 1901,441 1901,443 1902,445 1902,447 1903,449 1903,448 1904,446 1904,444 1904,446 1905,448 1905,449 1905,451 1906,453 1906,454 1906,456 1907,454 1907,453 1907,451 1908,449 1908,448 1908,446 1909,445 1909,443 1909,444 1910,446 1910,448 1911,449 1911,451 1911,453 1912,454 1912,456 1913,458 1913,456 1913,454 1913,452 1913,451 1913,449 1914,447 1915,446 1916,445 1917,445 1917,443 1918,442 1918,441 1918,439 1919,438 1920,440 1920,442 1920,443 1920,445 1920,446 1920,448 1921,450 1921,451 1921,453 1921,454 1921,456 1921,458 1921,460 1922,458 1922,457 1922,455 1922,453 1922,452 1922,450 1922,448 1922,446 1922,445 1922,443 1922,441 1923,440 1923,438 1923,436 1923,435 1923,433 1924,435 1924,437 1924,438 1924,439 1925,441 1925,443 1925,444 1925,446 1925,448 1925,450 1925,451 1926,453 1926,455 1926,457 1926,458 1926,460 1926,461 1926,463 1926,465 1926,466 1927,468 1927,469 1927,472 1927,473 1927,471 1927,470 1928,467 1928,464 1928,463 1929,462 1929,459 1929,458 1929,456 1929,454 1929,452 1929,451 1930,449 1930,447 1930,446 1930,443 1930,442 1930,440 1931,438 1932,439 1932,440 1932,441 1932,443 1933,445 1933,446 1933,448 1933,450 1933,451 1933,453 1934,454 1934,456 1934,458 1935,459 1935,461 1935,463 1935,465 1936,467 1936,468 1936,466 1936,465 1936,463 1937,461 1937,459 1937,457 1937,456 1937,454 1938,453 1938,451 1938,449 1938,448 1939,446 1939,448 1940,449 1940,451 1940,452 1940,454 1940,455 1941,457 1941,459 1941,461 1941,462 1941,464 1941,466 1941,468 1941,469 1941,471 1941,473 1941,474 1941,476 1942,478 1942,480 1943,482 1943,480 1943,478 1943,477 1944,476 1944,474 1944,472 1945,470 1945,468 1945,470 1945,472 1946,474 1946,476 1946,477 1946,479 1946,481 1946,483 1946,484 1946,486 1947,488 1947,490 1948,492"/>
</g>
<g id="ticklabels">
<text transform="translate(131.90 1497.60) scale(0.9946 1.0244)" text-anchor="middle">4000</text>
<text transform="translate(391.31 1497.60) scale(0.9946 1.0244)" text-anchor="middle">3500</text>
<text transform="translate(650.73 1497.60) scale(0.9946 1.0244)" text-anchor="middle">3000</text>
<text transform="translate(910.14 1497.60) scale(0.9946 1.0244)" text-anchor="middle">2500</text>
<text transform="translate(1169.56 1497.60) scale(0.9946 1.0244)" text-anchor="middle">2000</text>
<text transform="translate(1428.97 1497.60) scale(0.9946 1.0244)" text-anchor="middle">1500</text>
<text transform="translate(1688.39 1497.60) scale(0.9946 1.0244)" text-anchor="middle">1000</text>
<text transform="translate(1947.80 1497.60) scale(0.9946 1.0244)" text-anchor="middle">500</text>
</g>
<text><tspan x="747.9" y="1625" style="letter-spacing:0.33px">Wavenumber </tspan><tspan x="1170.6" y="1625">[cm</tspan><tspan x="1279.6" y="1588.8" style="font-size:40.6px;letter-spacing:-1.6px">-1</tspan><tspan x="1315.6" y="1625">]</tspan></text>
<text transform="translate(70.70 668.00) rotate(-90) scale(0.9960 1.0000)" text-anchor="middle">Transmittance</text>
<text transform="translate(1057.70 193.90) scale(0.9858 1.0244)" text-anchor="middle">MCF</text>
<text transform="translate(1076.40 431.00) scale(0.9920 1.0244)" text-anchor="middle">MCF-3.0Me</text>
<text transform="translate(1069.30 693.60) scale(0.9920 1.0244)" text-anchor="middle">MCF-3.0Oc</text>
<text transform="translate(1076.60 900.10) scale(0.9920 1.0244)" text-anchor="middle">MCF-3.0Hd</text>
</svg>
</body>
</html>
